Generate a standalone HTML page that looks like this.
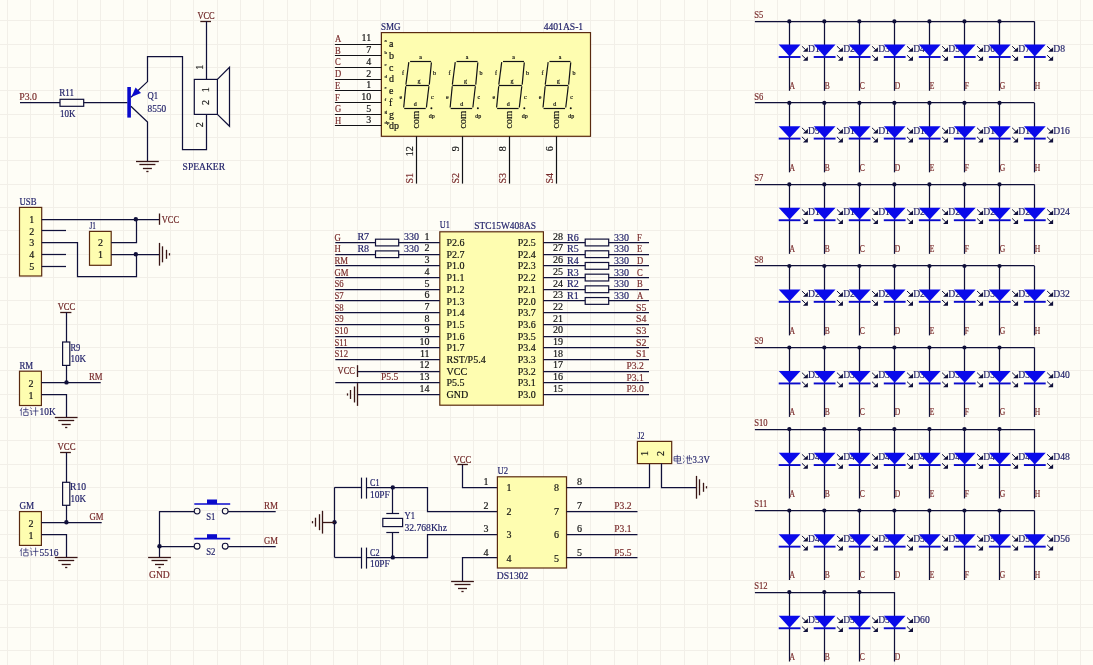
<!DOCTYPE html>
<html><head><meta charset="utf-8"><style>
html,body{margin:0;padding:0;background:#FEFDF6;}
svg{display:block;font-family:"Liberation Serif",serif;}
text{stroke-width:0.18px;}
svg{will-change:transform;}
</style></head><body>
<svg width="1093" height="665" viewBox="0 0 1093 665">
<rect width="1093" height="665" fill="#FEFDF6"/>
<path d="M7.5 0V665M30.5 0V665M53.5 0V665M77.5 0V665M100.5 0V665M123.5 0V665M147.5 0V665M170.5 0V665M193.5 0V665M217.5 0V665M240.5 0V665M263.5 0V665M287.5 0V665M310.5 0V665M333.5 0V665M357.5 0V665M380.5 0V665M403.5 0V665M427.5 0V665M450.5 0V665M473.5 0V665M497.5 0V665M520.5 0V665M543.5 0V665M567.5 0V665M590.5 0V665M614.5 0V665M637.5 0V665M660.5 0V665M684.5 0V665M707.5 0V665M730.5 0V665M754.5 0V665M777.5 0V665M800.5 0V665M824.5 0V665M847.5 0V665M870.5 0V665M894.5 0V665M917.5 0V665M940.5 0V665M964.5 0V665M987.5 0V665M1010.5 0V665M1034.5 0V665M1057.5 0V665M1080.5 0V665M0 20.5H1093M0 44.5H1093M0 67.5H1093M0 90.5H1093M0 114.5H1093M0 137.5H1093M0 160.5H1093M0 184.5H1093M0 207.5H1093M0 230.5H1093M0 254.5H1093M0 277.5H1093M0 300.5H1093M0 324.5H1093M0 347.5H1093M0 370.5H1093M0 394.5H1093M0 417.5H1093M0 440.5H1093M0 464.5H1093M0 487.5H1093M0 510.5H1093M0 534.5H1093M0 557.5H1093M0 580.5H1093M0 604.5H1093M0 627.5H1093M0 650.5H1093" stroke="#F2EFE8" stroke-width="1" fill="none"/>
<text x="19.2" y="99.8" font-size="10" fill="#782A2A" stroke="#782A2A" textLength="17.8" lengthAdjust="spacingAndGlyphs" stroke-width="0">P3.0</text>
<line x1="20" y1="102.5" x2="60" y2="102.5" stroke="#10103A" stroke-width="1.25"/>
<rect x="60" y="99.3" width="23.7" height="7" fill="none" stroke="#10103A" stroke-width="1.2"/>
<line x1="83.7" y1="102.5" x2="127.5" y2="102.5" stroke="#10103A" stroke-width="1.25"/>
<text x="59.3" y="96.2" font-size="10" fill="#1C1C66" stroke="#1C1C66" textLength="14.8" lengthAdjust="spacingAndGlyphs">R11</text>
<text x="60" y="116.5" font-size="10" fill="#1C1C66" stroke="#1C1C66" textLength="15.5" lengthAdjust="spacingAndGlyphs">10K</text>
<rect x="127.3" y="87" width="3.6" height="30.6" fill="#0A0ACC" stroke="none" stroke-width="0"/>
<polyline points="130.9,97.2 147.5,81.6 147.5,56.5 182.5,56.5 182.5,149.5 206.5,149.5 206.5,114.4" fill="none" stroke="#10103A" stroke-width="1.25" stroke-linejoin="miter"/>
<polygon points="131.3,97 135.6,87.6 141,92.9" fill="#0A0ACC" stroke="none" stroke-width="1"/>
<polyline points="130.9,106.2 147.5,122 147.5,161.5" fill="none" stroke="#10103A" stroke-width="1.25" stroke-linejoin="miter"/>
<line x1="136" y1="161.5" x2="158.8" y2="161.5" stroke="#3A1616" stroke-width="1.3"/>
<line x1="139.4" y1="164.5" x2="155.4" y2="164.5" stroke="#3A1616" stroke-width="1.3"/>
<line x1="142.9" y1="168.5" x2="151.9" y2="168.5" stroke="#3A1616" stroke-width="1.3"/>
<line x1="146.3" y1="171.5" x2="148.5" y2="171.5" stroke="#3A1616" stroke-width="1.3"/>
<text x="147.4" y="99" font-size="10" fill="#1C1C66" stroke="#1C1C66" textLength="10.6" lengthAdjust="spacingAndGlyphs">Q1</text>
<text x="147.6" y="111.8" font-size="10" fill="#1C1C66" stroke="#1C1C66" textLength="18.6" lengthAdjust="spacingAndGlyphs">8550</text>
<line x1="200.3" y1="21.5" x2="211" y2="21.5" stroke="#3A1616" stroke-width="1.3"/>
<text x="197.4" y="18.9" font-size="10" fill="#6A2020" stroke="#6A2020" textLength="17.3" lengthAdjust="spacingAndGlyphs" stroke-width="0">VCC</text>
<line x1="206.5" y1="21.3" x2="206.5" y2="79.4" stroke="#10103A" stroke-width="1.25"/>
<rect x="194.3" y="79.4" width="23.1" height="35" fill="none" stroke="#10103A" stroke-width="1.2"/>
<polyline points="217.4,79.4 229.5,67.2 229.5,126.2 217.4,114.4" fill="none" stroke="#10103A" stroke-width="1.25" stroke-linejoin="miter"/>
<text transform="translate(203.2 67.3) rotate(-90)" font-size="10" fill="#101010" stroke="#101010" text-anchor="middle">1</text>
<text transform="translate(208.6 89.7) rotate(-90)" font-size="10" fill="#101010" stroke="#101010" text-anchor="middle">1</text>
<text transform="translate(208.6 102.5) rotate(-90)" font-size="10" fill="#101010" stroke="#101010" text-anchor="middle">2</text>
<text transform="translate(203.2 124.8) rotate(-90)" font-size="10" fill="#101010" stroke="#101010" text-anchor="middle">2</text>
<text x="182.6" y="170.2" font-size="10" fill="#1C1C66" stroke="#1C1C66" textLength="42.4" lengthAdjust="spacingAndGlyphs">SPEAKER</text>
<text x="19.5" y="204.8" font-size="10" fill="#1C1C66" stroke="#1C1C66" textLength="17" lengthAdjust="spacingAndGlyphs">USB</text>
<rect x="19.5" y="207.4" width="22.2" height="68.6" fill="#FEFDB0" stroke="#5A2A10" stroke-width="1.2"/>
<text x="31.8" y="222.8" font-size="10" fill="#101010" stroke="#101010" text-anchor="middle">1</text>
<text x="31.8" y="234.5" font-size="10" fill="#101010" stroke="#101010" text-anchor="middle">2</text>
<text x="31.8" y="245.9" font-size="10" fill="#101010" stroke="#101010" text-anchor="middle">3</text>
<text x="31.8" y="257.9" font-size="10" fill="#101010" stroke="#101010" text-anchor="middle">4</text>
<text x="31.8" y="269.6" font-size="10" fill="#101010" stroke="#101010" text-anchor="middle">5</text>
<line x1="41.7" y1="219.5" x2="159" y2="219.5" stroke="#10103A" stroke-width="1.25"/>
<line x1="41.7" y1="230.5" x2="66" y2="230.5" stroke="#10103A" stroke-width="1.25"/>
<polyline points="41.7,242.5 77.5,242.5 77.5,276.5 136.5,276.5 136.5,254.3" fill="none" stroke="#10103A" stroke-width="1.25" stroke-linejoin="miter"/>
<line x1="41.7" y1="254.5" x2="66" y2="254.5" stroke="#10103A" stroke-width="1.25"/>
<line x1="41.7" y1="266.5" x2="66" y2="266.5" stroke="#10103A" stroke-width="1.25"/>
<circle cx="135.8" cy="219.2" r="2.2" fill="#10103A"/>
<circle cx="135.8" cy="254.3" r="2.2" fill="#10103A"/>
<line x1="159.5" y1="213.5" x2="159.5" y2="224.8" stroke="#3A1616" stroke-width="1.3"/>
<text x="161.7" y="223.2" font-size="10" fill="#6A2020" stroke="#6A2020" textLength="17.3" lengthAdjust="spacingAndGlyphs" stroke-width="0">VCC</text>
<text x="89.5" y="229" font-size="10" fill="#1C1C66" stroke="#1C1C66" textLength="6.5" lengthAdjust="spacingAndGlyphs">J1</text>
<rect x="89.5" y="231.4" width="21.7" height="33.9" fill="#FEFDB0" stroke="#5A2A10" stroke-width="1.2"/>
<text x="100.6" y="246.2" font-size="10" fill="#101010" stroke="#101010" text-anchor="middle">2</text>
<text x="100.6" y="258.3" font-size="10" fill="#101010" stroke="#101010" text-anchor="middle">1</text>
<polyline points="111.2,242.5 136.5,242.5 136.5,219.2" fill="none" stroke="#10103A" stroke-width="1.25" stroke-linejoin="miter"/>
<line x1="111.2" y1="254.5" x2="159" y2="254.5" stroke="#10103A" stroke-width="1.25"/>
<line x1="159.5" y1="242.9" x2="159.5" y2="265.7" stroke="#3A1616" stroke-width="1.3"/>
<line x1="162.5" y1="246.3" x2="162.5" y2="262.3" stroke="#3A1616" stroke-width="1.3"/>
<line x1="166.5" y1="249.8" x2="166.5" y2="258.8" stroke="#3A1616" stroke-width="1.3"/>
<line x1="169.5" y1="253.2" x2="169.5" y2="255.4" stroke="#3A1616" stroke-width="1.3"/>
<text x="57.7" y="310.3" font-size="10" fill="#6A2020" stroke="#6A2020" textLength="17.6" lengthAdjust="spacingAndGlyphs" stroke-width="0">VCC</text>
<line x1="60.2" y1="312.5" x2="71.4" y2="312.5" stroke="#3A1616" stroke-width="1.3"/>
<line x1="66.5" y1="312.3" x2="66.5" y2="342" stroke="#10103A" stroke-width="1.25"/>
<rect x="62.6" y="342" width="7.2" height="23.4" fill="none" stroke="#10103A" stroke-width="1.2"/>
<line x1="66.5" y1="365.4" x2="66.5" y2="382.4" stroke="#10103A" stroke-width="1.25"/>
<text x="70.4" y="350.7" font-size="10" fill="#1C1C66" stroke="#1C1C66" textLength="9.8" lengthAdjust="spacingAndGlyphs">R9</text>
<text x="70.4" y="362.4" font-size="10" fill="#1C1C66" stroke="#1C1C66" textLength="15.6" lengthAdjust="spacingAndGlyphs">10K</text>
<text x="19.5" y="369.3" font-size="10" fill="#1C1C66" stroke="#1C1C66" textLength="13.7" lengthAdjust="spacingAndGlyphs">RM</text>
<rect x="19.5" y="371.2" width="21.9" height="34.3" fill="#FEFDB0" stroke="#5A2A10" stroke-width="1.2"/>
<text x="30.9" y="386.6" font-size="10" fill="#101010" stroke="#101010" text-anchor="middle">2</text>
<text x="30.9" y="399.3" font-size="10" fill="#101010" stroke="#101010" text-anchor="middle">1</text>
<line x1="41.4" y1="382.5" x2="100.7" y2="382.5" stroke="#10103A" stroke-width="1.25"/>
<circle cx="66.5" cy="382.4" r="2.2" fill="#10103A"/>
<text x="89" y="379.5" font-size="10" fill="#782A2A" stroke="#782A2A" textLength="13.6" lengthAdjust="spacingAndGlyphs" stroke-width="0">RM</text>
<polyline points="41.4,394.5 66.5,394.5 66.5,417.4" fill="none" stroke="#10103A" stroke-width="1.25" stroke-linejoin="miter"/>
<line x1="54.8" y1="417.5" x2="77.6" y2="417.5" stroke="#3A1616" stroke-width="1.3"/>
<line x1="58.2" y1="420.5" x2="74.2" y2="420.5" stroke="#3A1616" stroke-width="1.3"/>
<line x1="61.7" y1="424.5" x2="70.7" y2="424.5" stroke="#3A1616" stroke-width="1.3"/>
<line x1="65.1" y1="427.5" x2="67.3" y2="427.5" stroke="#3A1616" stroke-width="1.3"/>
<path d="M22.1 407.6L20.1 411M21.3 409.4V415.6M23.1 409.6H28.5M25.8 407.4V411.8M23.7 412H28.1 V415.5 H23.7 ZM30.3 407.6L31.7 408.6M29.7 410.6H31.3 V415 L32.5 413.6M32.7 411H38.5M35.6 407.2V415.8" stroke="#1C1C66" stroke-width="0.85" fill="none" opacity="0.8"/>
<text x="39.6" y="415.2" font-size="10" fill="#1C1C66" stroke="#1C1C66" textLength="16.1" lengthAdjust="spacingAndGlyphs">10K</text>
<text x="57.5" y="449.5" font-size="10" fill="#6A2020" stroke="#6A2020" textLength="18" lengthAdjust="spacingAndGlyphs" stroke-width="0">VCC</text>
<line x1="60.1" y1="452.5" x2="70.9" y2="452.5" stroke="#3A1616" stroke-width="1.3"/>
<line x1="66.5" y1="452.6" x2="66.5" y2="482.3" stroke="#10103A" stroke-width="1.25"/>
<rect x="62.6" y="482.3" width="7.2" height="23" fill="none" stroke="#10103A" stroke-width="1.2"/>
<line x1="66.5" y1="505.3" x2="66.5" y2="522.3" stroke="#10103A" stroke-width="1.25"/>
<text x="70" y="490" font-size="10" fill="#1C1C66" stroke="#1C1C66" textLength="16" lengthAdjust="spacingAndGlyphs">R10</text>
<text x="70.4" y="502.4" font-size="10" fill="#1C1C66" stroke="#1C1C66" textLength="15.6" lengthAdjust="spacingAndGlyphs">10K</text>
<text x="19.5" y="508.6" font-size="10" fill="#1C1C66" stroke="#1C1C66" textLength="14.7" lengthAdjust="spacingAndGlyphs">GM</text>
<rect x="19.5" y="511.6" width="21.9" height="33.8" fill="#FEFDB0" stroke="#5A2A10" stroke-width="1.2"/>
<text x="30.9" y="526.9" font-size="10" fill="#101010" stroke="#101010" text-anchor="middle">2</text>
<text x="30.9" y="539" font-size="10" fill="#101010" stroke="#101010" text-anchor="middle">1</text>
<line x1="41.4" y1="522.5" x2="101.7" y2="522.5" stroke="#10103A" stroke-width="1.25"/>
<circle cx="66.4" cy="522.3" r="2.2" fill="#10103A"/>
<text x="89.5" y="520.4" font-size="10" fill="#782A2A" stroke="#782A2A" textLength="14.1" lengthAdjust="spacingAndGlyphs" stroke-width="0">GM</text>
<polyline points="41.4,534.5 66.5,534.5 66.5,557.1" fill="none" stroke="#10103A" stroke-width="1.25" stroke-linejoin="miter"/>
<line x1="54.8" y1="557.5" x2="77.6" y2="557.5" stroke="#3A1616" stroke-width="1.3"/>
<line x1="58.2" y1="560.5" x2="74.2" y2="560.5" stroke="#3A1616" stroke-width="1.3"/>
<line x1="61.7" y1="564.5" x2="70.7" y2="564.5" stroke="#3A1616" stroke-width="1.3"/>
<line x1="65.1" y1="567.5" x2="67.3" y2="567.5" stroke="#3A1616" stroke-width="1.3"/>
<path d="M22.1 548L20.1 551.4M21.3 549.8V556M23.1 550H28.5M25.8 547.8V552.2M23.7 552.4H28.1 V555.9 H23.7 ZM30.3 548L31.7 549M29.7 551H31.3 V555.4 L32.5 554M32.7 551.4H38.5M35.6 547.6V556.2" stroke="#1C1C66" stroke-width="0.85" fill="none" opacity="0.8"/>
<text x="39.6" y="555.6" font-size="10" fill="#1C1C66" stroke="#1C1C66" textLength="19" lengthAdjust="spacingAndGlyphs">5516</text>
<line x1="159.5" y1="511.5" x2="194.1" y2="511.5" stroke="#10103A" stroke-width="1.25"/>
<circle cx="197.1" cy="511.1" r="2.9" fill="none" stroke="#10103A" stroke-width="1.1"/>
<circle cx="225.2" cy="511.1" r="2.9" fill="none" stroke="#10103A" stroke-width="1.1"/>
<line x1="228.1" y1="511.5" x2="275.7" y2="511.5" stroke="#10103A" stroke-width="1.25"/>
<line x1="194.3" y1="504" x2="230.2" y2="504" stroke="#0A0ACC" stroke-width="1.7"/>
<rect x="207" y="499.5" width="10" height="4.5" fill="#0A0ACC" stroke="none" stroke-width="0"/>
<text x="206.2" y="519.7" font-size="10" fill="#1C1C66" stroke="#1C1C66" textLength="9.2" lengthAdjust="spacingAndGlyphs">S1</text>
<text x="264" y="509" font-size="10" fill="#782A2A" stroke="#782A2A" textLength="14" lengthAdjust="spacingAndGlyphs" stroke-width="0">RM</text>
<line x1="159.5" y1="546.5" x2="194.1" y2="546.5" stroke="#10103A" stroke-width="1.25"/>
<circle cx="197.1" cy="546.2" r="2.9" fill="none" stroke="#10103A" stroke-width="1.1"/>
<circle cx="225.2" cy="546.2" r="2.9" fill="none" stroke="#10103A" stroke-width="1.1"/>
<line x1="228.1" y1="546.5" x2="275.7" y2="546.5" stroke="#10103A" stroke-width="1.25"/>
<line x1="194.3" y1="538.7" x2="230.2" y2="538.7" stroke="#0A0ACC" stroke-width="1.7"/>
<rect x="207" y="534.2" width="10" height="4.5" fill="#0A0ACC" stroke="none" stroke-width="0"/>
<text x="206.2" y="554.5" font-size="10" fill="#1C1C66" stroke="#1C1C66" textLength="9.2" lengthAdjust="spacingAndGlyphs">S2</text>
<text x="264" y="543.7" font-size="10" fill="#782A2A" stroke="#782A2A" textLength="14" lengthAdjust="spacingAndGlyphs" stroke-width="0">GM</text>
<line x1="159.5" y1="511.1" x2="159.5" y2="557" stroke="#10103A" stroke-width="1.25"/>
<circle cx="159.5" cy="546.2" r="2.2" fill="#10103A"/>
<line x1="148.1" y1="557.5" x2="170.9" y2="557.5" stroke="#3A1616" stroke-width="1.3"/>
<line x1="151.5" y1="560.5" x2="167.5" y2="560.5" stroke="#3A1616" stroke-width="1.3"/>
<line x1="155" y1="564.5" x2="164" y2="564.5" stroke="#3A1616" stroke-width="1.3"/>
<line x1="158.4" y1="567.5" x2="160.6" y2="567.5" stroke="#3A1616" stroke-width="1.3"/>
<text x="149" y="578.4" font-size="10" fill="#782A2A" stroke="#782A2A" textLength="20.8" lengthAdjust="spacingAndGlyphs" stroke-width="0">GND</text>
<text x="381" y="29.8" font-size="10" fill="#1C1C66" stroke="#1C1C66" textLength="19.6" lengthAdjust="spacingAndGlyphs">SMG</text>
<text x="543.7" y="30" font-size="10" fill="#1C1C66" stroke="#1C1C66" textLength="39.5" lengthAdjust="spacingAndGlyphs">4401AS-1</text>
<rect x="381.4" y="32.6" width="209.1" height="103.7" fill="#FEFDB0" stroke="#5A2A10" stroke-width="1.2"/>
<line x1="334.9" y1="44.5" x2="381.4" y2="44.5" stroke="#121216" stroke-width="1.2"/>
<text transform="translate(335 42) scale(0.86 1)" font-size="10" fill="#782A2A" stroke="#782A2A" stroke-width="0">A</text>
<text x="371.2" y="41.4" font-size="10" fill="#101010" stroke="#101010" text-anchor="end">11</text>
<text x="384.4" y="42.4" font-size="5" fill="#101010" stroke="#101010" stroke-width="0">a</text>
<text x="389" y="47.3" font-size="10" fill="#101010" stroke="#101010">a</text>
<line x1="334.9" y1="55.5" x2="381.4" y2="55.5" stroke="#121216" stroke-width="1.2"/>
<text transform="translate(335 53.7) scale(0.86 1)" font-size="10" fill="#782A2A" stroke="#782A2A" stroke-width="0">B</text>
<text x="371.2" y="53.1" font-size="10" fill="#101010" stroke="#101010" text-anchor="end">7</text>
<text x="384.4" y="54.1" font-size="5" fill="#101010" stroke="#101010" stroke-width="0">b</text>
<text x="389" y="59" font-size="10" fill="#101010" stroke="#101010">b</text>
<line x1="334.9" y1="67.5" x2="381.4" y2="67.5" stroke="#121216" stroke-width="1.2"/>
<text transform="translate(335 65.4) scale(0.86 1)" font-size="10" fill="#782A2A" stroke="#782A2A" stroke-width="0">C</text>
<text x="371.2" y="64.8" font-size="10" fill="#101010" stroke="#101010" text-anchor="end">4</text>
<text x="384.4" y="65.8" font-size="5" fill="#101010" stroke="#101010" stroke-width="0">c</text>
<text x="389" y="70.7" font-size="10" fill="#101010" stroke="#101010">c</text>
<line x1="334.9" y1="79.5" x2="381.4" y2="79.5" stroke="#121216" stroke-width="1.2"/>
<text transform="translate(335 77.1) scale(0.86 1)" font-size="10" fill="#782A2A" stroke="#782A2A" stroke-width="0">D</text>
<text x="371.2" y="76.5" font-size="10" fill="#101010" stroke="#101010" text-anchor="end">2</text>
<text x="384.4" y="77.5" font-size="5" fill="#101010" stroke="#101010" stroke-width="0">d</text>
<text x="389" y="82.4" font-size="10" fill="#101010" stroke="#101010">d</text>
<line x1="334.9" y1="90.5" x2="381.4" y2="90.5" stroke="#121216" stroke-width="1.2"/>
<text transform="translate(335 88.8) scale(0.86 1)" font-size="10" fill="#782A2A" stroke="#782A2A" stroke-width="0">E</text>
<text x="371.2" y="88.2" font-size="10" fill="#101010" stroke="#101010" text-anchor="end">1</text>
<text x="384.4" y="89.2" font-size="5" fill="#101010" stroke="#101010" stroke-width="0">e</text>
<text x="389" y="94.1" font-size="10" fill="#101010" stroke="#101010">e</text>
<line x1="334.9" y1="102.5" x2="381.4" y2="102.5" stroke="#121216" stroke-width="1.2"/>
<text transform="translate(335 100.5) scale(0.86 1)" font-size="10" fill="#782A2A" stroke="#782A2A" stroke-width="0">F</text>
<text x="371.2" y="99.9" font-size="10" fill="#101010" stroke="#101010" text-anchor="end">10</text>
<text x="384.4" y="100.9" font-size="5" fill="#101010" stroke="#101010" stroke-width="0">f</text>
<text x="389" y="105.8" font-size="10" fill="#101010" stroke="#101010">f</text>
<line x1="334.9" y1="114.5" x2="381.4" y2="114.5" stroke="#121216" stroke-width="1.2"/>
<text transform="translate(335 112.2) scale(0.86 1)" font-size="10" fill="#782A2A" stroke="#782A2A" stroke-width="0">G</text>
<text x="371.2" y="111.6" font-size="10" fill="#101010" stroke="#101010" text-anchor="end">5</text>
<text x="384.4" y="112.6" font-size="5" fill="#101010" stroke="#101010" stroke-width="0">g</text>
<text x="389" y="117.5" font-size="10" fill="#101010" stroke="#101010">g</text>
<line x1="334.9" y1="125.5" x2="381.4" y2="125.5" stroke="#121216" stroke-width="1.2"/>
<text transform="translate(335 123.9) scale(0.86 1)" font-size="10" fill="#782A2A" stroke="#782A2A" stroke-width="0">H</text>
<text x="371.2" y="123.3" font-size="10" fill="#101010" stroke="#101010" text-anchor="end">3</text>
<text x="384.4" y="124.3" font-size="5" fill="#101010" stroke="#101010" stroke-width="0">dp</text>
<text x="389" y="129.2" font-size="10" fill="#101010" stroke="#101010">dp</text>
<line x1="410.1" y1="61.5" x2="431.1" y2="61.5" stroke="#121216" stroke-width="1.2"/>
<line x1="405.9" y1="85.5" x2="428.9" y2="85.5" stroke="#121216" stroke-width="1.2"/>
<line x1="404.2" y1="108.5" x2="425.7" y2="108.5" stroke="#121216" stroke-width="1.2"/>
<line x1="408.8" y1="62.1" x2="405.9" y2="84.6" stroke="#121216" stroke-width="1.2"/>
<line x1="405.8" y1="86.3" x2="403.7" y2="107.5" stroke="#121216" stroke-width="1.2"/>
<line x1="431.4" y1="62.4" x2="429.3" y2="84.6" stroke="#121216" stroke-width="1.2"/>
<line x1="428.9" y1="86.3" x2="426.4" y2="107.5" stroke="#121216" stroke-width="1.2"/>
<circle cx="431.4" cy="108.3" r="1" fill="#121216"/>
<text x="419.3" y="59.3" font-size="6" fill="#101010" stroke="#101010" stroke-width="0">a</text>
<text x="402.1" y="75.2" font-size="6" fill="#101010" stroke="#101010" stroke-width="0">f</text>
<text x="433.1" y="75.2" font-size="6" fill="#101010" stroke="#101010" stroke-width="0">b</text>
<text x="417.5" y="83" font-size="6" fill="#101010" stroke="#101010" stroke-width="0">g</text>
<text x="399.5" y="99" font-size="6" fill="#101010" stroke="#101010" stroke-width="0">e</text>
<text x="431" y="99" font-size="6" fill="#101010" stroke="#101010" stroke-width="0">c</text>
<text x="413.8" y="105.6" font-size="6" fill="#101010" stroke="#101010" stroke-width="0">d</text>
<text x="428.8" y="118.2" font-size="6" fill="#101010" stroke="#101010" stroke-width="0">dp</text>
<text transform="translate(419.2 128.8) rotate(-90)" font-size="10.5" fill="#101010" stroke="#101010">com</text>
<line x1="456.55" y1="61.5" x2="477.55" y2="61.5" stroke="#121216" stroke-width="1.2"/>
<line x1="452.35" y1="85.5" x2="475.35" y2="85.5" stroke="#121216" stroke-width="1.2"/>
<line x1="450.65" y1="108.5" x2="472.15" y2="108.5" stroke="#121216" stroke-width="1.2"/>
<line x1="455.25" y1="62.1" x2="452.35" y2="84.6" stroke="#121216" stroke-width="1.2"/>
<line x1="452.25" y1="86.3" x2="450.15" y2="107.5" stroke="#121216" stroke-width="1.2"/>
<line x1="477.85" y1="62.4" x2="475.75" y2="84.6" stroke="#121216" stroke-width="1.2"/>
<line x1="475.35" y1="86.3" x2="472.85" y2="107.5" stroke="#121216" stroke-width="1.2"/>
<circle cx="477.85" cy="108.3" r="1" fill="#121216"/>
<text x="465.75" y="59.3" font-size="6" fill="#101010" stroke="#101010" stroke-width="0">a</text>
<text x="448.55" y="75.2" font-size="6" fill="#101010" stroke="#101010" stroke-width="0">f</text>
<text x="479.55" y="75.2" font-size="6" fill="#101010" stroke="#101010" stroke-width="0">b</text>
<text x="463.95" y="83" font-size="6" fill="#101010" stroke="#101010" stroke-width="0">g</text>
<text x="445.95" y="99" font-size="6" fill="#101010" stroke="#101010" stroke-width="0">e</text>
<text x="477.45" y="99" font-size="6" fill="#101010" stroke="#101010" stroke-width="0">c</text>
<text x="460.25" y="105.6" font-size="6" fill="#101010" stroke="#101010" stroke-width="0">d</text>
<text x="475.25" y="118.2" font-size="6" fill="#101010" stroke="#101010" stroke-width="0">dp</text>
<text transform="translate(465.65 128.8) rotate(-90)" font-size="10.5" fill="#101010" stroke="#101010">com</text>
<line x1="503" y1="61.5" x2="524" y2="61.5" stroke="#121216" stroke-width="1.2"/>
<line x1="498.8" y1="85.5" x2="521.8" y2="85.5" stroke="#121216" stroke-width="1.2"/>
<line x1="497.1" y1="108.5" x2="518.6" y2="108.5" stroke="#121216" stroke-width="1.2"/>
<line x1="501.7" y1="62.1" x2="498.8" y2="84.6" stroke="#121216" stroke-width="1.2"/>
<line x1="498.7" y1="86.3" x2="496.6" y2="107.5" stroke="#121216" stroke-width="1.2"/>
<line x1="524.3" y1="62.4" x2="522.2" y2="84.6" stroke="#121216" stroke-width="1.2"/>
<line x1="521.8" y1="86.3" x2="519.3" y2="107.5" stroke="#121216" stroke-width="1.2"/>
<circle cx="524.3" cy="108.3" r="1" fill="#121216"/>
<text x="512.2" y="59.3" font-size="6" fill="#101010" stroke="#101010" stroke-width="0">a</text>
<text x="495" y="75.2" font-size="6" fill="#101010" stroke="#101010" stroke-width="0">f</text>
<text x="526" y="75.2" font-size="6" fill="#101010" stroke="#101010" stroke-width="0">b</text>
<text x="510.4" y="83" font-size="6" fill="#101010" stroke="#101010" stroke-width="0">g</text>
<text x="492.4" y="99" font-size="6" fill="#101010" stroke="#101010" stroke-width="0">e</text>
<text x="523.9" y="99" font-size="6" fill="#101010" stroke="#101010" stroke-width="0">c</text>
<text x="506.7" y="105.6" font-size="6" fill="#101010" stroke="#101010" stroke-width="0">d</text>
<text x="521.7" y="118.2" font-size="6" fill="#101010" stroke="#101010" stroke-width="0">dp</text>
<text transform="translate(512.1 128.8) rotate(-90)" font-size="10.5" fill="#101010" stroke="#101010">com</text>
<line x1="549.45" y1="61.5" x2="570.45" y2="61.5" stroke="#121216" stroke-width="1.2"/>
<line x1="545.25" y1="85.5" x2="568.25" y2="85.5" stroke="#121216" stroke-width="1.2"/>
<line x1="543.55" y1="108.5" x2="565.05" y2="108.5" stroke="#121216" stroke-width="1.2"/>
<line x1="548.15" y1="62.1" x2="545.25" y2="84.6" stroke="#121216" stroke-width="1.2"/>
<line x1="545.15" y1="86.3" x2="543.05" y2="107.5" stroke="#121216" stroke-width="1.2"/>
<line x1="570.75" y1="62.4" x2="568.65" y2="84.6" stroke="#121216" stroke-width="1.2"/>
<line x1="568.25" y1="86.3" x2="565.75" y2="107.5" stroke="#121216" stroke-width="1.2"/>
<circle cx="570.75" cy="108.3" r="1" fill="#121216"/>
<text x="558.65" y="59.3" font-size="6" fill="#101010" stroke="#101010" stroke-width="0">a</text>
<text x="541.45" y="75.2" font-size="6" fill="#101010" stroke="#101010" stroke-width="0">f</text>
<text x="572.45" y="75.2" font-size="6" fill="#101010" stroke="#101010" stroke-width="0">b</text>
<text x="556.85" y="83" font-size="6" fill="#101010" stroke="#101010" stroke-width="0">g</text>
<text x="538.85" y="99" font-size="6" fill="#101010" stroke="#101010" stroke-width="0">e</text>
<text x="570.35" y="99" font-size="6" fill="#101010" stroke="#101010" stroke-width="0">c</text>
<text x="553.15" y="105.6" font-size="6" fill="#101010" stroke="#101010" stroke-width="0">d</text>
<text x="568.15" y="118.2" font-size="6" fill="#101010" stroke="#101010" stroke-width="0">dp</text>
<text transform="translate(558.55 128.8) rotate(-90)" font-size="10.5" fill="#101010" stroke="#101010">com</text>
<line x1="416.5" y1="136.3" x2="416.5" y2="183.6" stroke="#121216" stroke-width="1.2"/>
<text transform="translate(413.4 146.3) rotate(-90)" font-size="10" fill="#101010" stroke="#101010" text-anchor="end">12</text>
<text transform="translate(413.4 183.6) rotate(-90)" font-size="10" fill="#782A2A" stroke="#782A2A" stroke-width="0">S1</text>
<line x1="462.5" y1="136.3" x2="462.5" y2="183.6" stroke="#121216" stroke-width="1.2"/>
<text transform="translate(459.4 146.3) rotate(-90)" font-size="10" fill="#101010" stroke="#101010" text-anchor="end">9</text>
<text transform="translate(459.4 183.6) rotate(-90)" font-size="10" fill="#782A2A" stroke="#782A2A" stroke-width="0">S2</text>
<line x1="509.5" y1="136.3" x2="509.5" y2="183.6" stroke="#121216" stroke-width="1.2"/>
<text transform="translate(506.2 146.3) rotate(-90)" font-size="10" fill="#101010" stroke="#101010" text-anchor="end">8</text>
<text transform="translate(506.2 183.6) rotate(-90)" font-size="10" fill="#782A2A" stroke="#782A2A" stroke-width="0">S3</text>
<line x1="556.5" y1="136.3" x2="556.5" y2="183.6" stroke="#121216" stroke-width="1.2"/>
<text transform="translate(553.3 146.3) rotate(-90)" font-size="10" fill="#101010" stroke="#101010" text-anchor="end">6</text>
<text transform="translate(553.3 183.6) rotate(-90)" font-size="10" fill="#782A2A" stroke="#782A2A" stroke-width="0">S4</text>
<text x="439.8" y="228.4" font-size="10" fill="#1C1C66" stroke="#1C1C66" textLength="10" lengthAdjust="spacingAndGlyphs">U1</text>
<text x="474.3" y="228.9" font-size="10" fill="#1C1C66" stroke="#1C1C66" textLength="61.7" lengthAdjust="spacingAndGlyphs">STC15W408AS</text>
<rect x="439.8" y="231.8" width="103.6" height="173.4" fill="#FEFDB0" stroke="#5A2A10" stroke-width="1.2"/>
<text x="446.5" y="246.1" font-size="10" fill="#101010" stroke="#101010">P2.6</text>
<text x="429.6" y="239.8" font-size="10" fill="#101010" stroke="#101010" text-anchor="end">1</text>
<text transform="translate(334.5 240.5) scale(0.87 1)" font-size="10" fill="#782A2A" stroke="#782A2A" stroke-width="0">G</text>
<text x="446.5" y="257.79" font-size="10" fill="#101010" stroke="#101010">P2.7</text>
<text x="429.6" y="251.49" font-size="10" fill="#101010" stroke="#101010" text-anchor="end">2</text>
<text transform="translate(334.5 252.19) scale(0.87 1)" font-size="10" fill="#782A2A" stroke="#782A2A" stroke-width="0">H</text>
<text x="446.5" y="269.48" font-size="10" fill="#101010" stroke="#101010">P1.0</text>
<text x="429.6" y="263.18" font-size="10" fill="#101010" stroke="#101010" text-anchor="end">3</text>
<text transform="translate(334.5 263.88) scale(0.87 1)" font-size="10" fill="#782A2A" stroke="#782A2A" stroke-width="0">RM</text>
<text x="446.5" y="281.17" font-size="10" fill="#101010" stroke="#101010">P1.1</text>
<text x="429.6" y="274.87" font-size="10" fill="#101010" stroke="#101010" text-anchor="end">4</text>
<text transform="translate(334.5 275.57) scale(0.87 1)" font-size="10" fill="#782A2A" stroke="#782A2A" stroke-width="0">GM</text>
<text x="446.5" y="292.86" font-size="10" fill="#101010" stroke="#101010">P1.2</text>
<text x="429.6" y="286.56" font-size="10" fill="#101010" stroke="#101010" text-anchor="end">5</text>
<text transform="translate(334.5 287.26) scale(0.87 1)" font-size="10" fill="#782A2A" stroke="#782A2A" stroke-width="0">S6</text>
<text x="446.5" y="304.55" font-size="10" fill="#101010" stroke="#101010">P1.3</text>
<text x="429.6" y="298.25" font-size="10" fill="#101010" stroke="#101010" text-anchor="end">6</text>
<text transform="translate(334.5 298.95) scale(0.87 1)" font-size="10" fill="#782A2A" stroke="#782A2A" stroke-width="0">S7</text>
<text x="446.5" y="316.24" font-size="10" fill="#101010" stroke="#101010">P1.4</text>
<text x="429.6" y="309.94" font-size="10" fill="#101010" stroke="#101010" text-anchor="end">7</text>
<text transform="translate(334.5 310.64) scale(0.87 1)" font-size="10" fill="#782A2A" stroke="#782A2A" stroke-width="0">S8</text>
<text x="446.5" y="327.93" font-size="10" fill="#101010" stroke="#101010">P1.5</text>
<text x="429.6" y="321.63" font-size="10" fill="#101010" stroke="#101010" text-anchor="end">8</text>
<text transform="translate(334.5 322.33) scale(0.87 1)" font-size="10" fill="#782A2A" stroke="#782A2A" stroke-width="0">S9</text>
<text x="446.5" y="339.62" font-size="10" fill="#101010" stroke="#101010">P1.6</text>
<text x="429.6" y="333.32" font-size="10" fill="#101010" stroke="#101010" text-anchor="end">9</text>
<text transform="translate(334.5 334.02) scale(0.87 1)" font-size="10" fill="#782A2A" stroke="#782A2A" stroke-width="0">S10</text>
<text x="446.5" y="351.31" font-size="10" fill="#101010" stroke="#101010">P1.7</text>
<text x="429.6" y="345.01" font-size="10" fill="#101010" stroke="#101010" text-anchor="end">10</text>
<text transform="translate(334.5 345.71) scale(0.87 1)" font-size="10" fill="#782A2A" stroke="#782A2A" stroke-width="0">S11</text>
<text x="446.5" y="363" font-size="10" fill="#101010" stroke="#101010">RST/P5.4</text>
<text x="429.6" y="356.7" font-size="10" fill="#101010" stroke="#101010" text-anchor="end">11</text>
<text transform="translate(334.5 357.4) scale(0.87 1)" font-size="10" fill="#782A2A" stroke="#782A2A" stroke-width="0">S12</text>
<text x="446.5" y="374.69" font-size="10" fill="#101010" stroke="#101010">VCC</text>
<text x="429.6" y="368.39" font-size="10" fill="#101010" stroke="#101010" text-anchor="end">12</text>
<text x="446.5" y="386.38" font-size="10" fill="#101010" stroke="#101010">P5.5</text>
<text x="429.6" y="380.08" font-size="10" fill="#101010" stroke="#101010" text-anchor="end">13</text>
<text x="446.5" y="398.07" font-size="10" fill="#101010" stroke="#101010">GND</text>
<text x="429.6" y="391.77" font-size="10" fill="#101010" stroke="#101010" text-anchor="end">14</text>
<line x1="335.3" y1="242.5" x2="375.5" y2="242.5" stroke="#10103A" stroke-width="1.25"/>
<line x1="398.7" y1="242.5" x2="439.8" y2="242.5" stroke="#10103A" stroke-width="1.25"/>
<rect x="375.5" y="239.2" width="23.2" height="6.7" fill="none" stroke="#10103A" stroke-width="1.2"/>
<text x="357.4" y="240.2" font-size="10" fill="#1C1C66" stroke="#1C1C66">R7</text>
<text x="404" y="240.2" font-size="10" fill="#1C1C66" stroke="#1C1C66">330</text>
<line x1="335.3" y1="254.5" x2="375.5" y2="254.5" stroke="#10103A" stroke-width="1.25"/>
<line x1="398.7" y1="254.5" x2="439.8" y2="254.5" stroke="#10103A" stroke-width="1.25"/>
<rect x="375.5" y="250.89" width="23.2" height="6.7" fill="none" stroke="#10103A" stroke-width="1.2"/>
<text x="357.4" y="251.89" font-size="10" fill="#1C1C66" stroke="#1C1C66">R8</text>
<text x="404" y="251.89" font-size="10" fill="#1C1C66" stroke="#1C1C66">330</text>
<line x1="335.3" y1="265.5" x2="439.8" y2="265.5" stroke="#10103A" stroke-width="1.25"/>
<line x1="335.3" y1="277.5" x2="439.8" y2="277.5" stroke="#10103A" stroke-width="1.25"/>
<line x1="335.3" y1="289.5" x2="439.8" y2="289.5" stroke="#10103A" stroke-width="1.25"/>
<line x1="335.3" y1="300.5" x2="439.8" y2="300.5" stroke="#10103A" stroke-width="1.25"/>
<line x1="335.3" y1="312.5" x2="439.8" y2="312.5" stroke="#10103A" stroke-width="1.25"/>
<line x1="335.3" y1="324.5" x2="439.8" y2="324.5" stroke="#10103A" stroke-width="1.25"/>
<line x1="335.3" y1="336.5" x2="439.8" y2="336.5" stroke="#10103A" stroke-width="1.25"/>
<line x1="335.3" y1="347.5" x2="439.8" y2="347.5" stroke="#10103A" stroke-width="1.25"/>
<line x1="335.3" y1="359.5" x2="439.8" y2="359.5" stroke="#10103A" stroke-width="1.25"/>
<line x1="357.4" y1="371.5" x2="439.8" y2="371.5" stroke="#10103A" stroke-width="1.25"/>
<line x1="357.5" y1="365.19" x2="357.5" y2="376.99" stroke="#3A1616" stroke-width="1.3"/>
<text x="337.6" y="374.29" font-size="10" fill="#6A2020" stroke="#6A2020" textLength="17.4" lengthAdjust="spacingAndGlyphs" stroke-width="0">VCC</text>
<line x1="335.3" y1="382.5" x2="439.8" y2="382.5" stroke="#10103A" stroke-width="1.25"/>
<text x="381" y="379.68" font-size="10" fill="#782A2A" stroke="#782A2A" textLength="17.4" lengthAdjust="spacingAndGlyphs" stroke-width="0">P5.5</text>
<line x1="357.4" y1="394.5" x2="439.8" y2="394.5" stroke="#10103A" stroke-width="1.25"/>
<line x1="357.5" y1="383.07" x2="357.5" y2="405.87" stroke="#3A1616" stroke-width="1.3"/>
<line x1="354.5" y1="386.47" x2="354.5" y2="402.47" stroke="#3A1616" stroke-width="1.3"/>
<line x1="350.5" y1="389.97" x2="350.5" y2="398.97" stroke="#3A1616" stroke-width="1.3"/>
<line x1="347.5" y1="393.37" x2="347.5" y2="395.57" stroke="#3A1616" stroke-width="1.3"/>
<text x="535.8" y="246.1" font-size="10" fill="#101010" stroke="#101010" text-anchor="end">P2.5</text>
<text x="553" y="239.8" font-size="10" fill="#101010" stroke="#101010">28</text>
<text transform="translate(636.9 240.5) scale(0.86 1)" font-size="10" fill="#782A2A" stroke="#782A2A" stroke-width="0">F</text>
<line x1="543.4" y1="242.5" x2="585.2" y2="242.5" stroke="#10103A" stroke-width="1.25"/>
<line x1="608.7" y1="242.5" x2="649" y2="242.5" stroke="#10103A" stroke-width="1.25"/>
<rect x="585.2" y="239.1" width="23.5" height="6.8" fill="none" stroke="#10103A" stroke-width="1.2"/>
<text x="567" y="240.5" font-size="10" fill="#1C1C66" stroke="#1C1C66">R6</text>
<text x="614" y="240.5" font-size="10" fill="#1C1C66" stroke="#1C1C66">330</text>
<text x="535.8" y="257.79" font-size="10" fill="#101010" stroke="#101010" text-anchor="end">P2.4</text>
<text x="553" y="251.49" font-size="10" fill="#101010" stroke="#101010">27</text>
<text transform="translate(636.9 252.19) scale(0.86 1)" font-size="10" fill="#782A2A" stroke="#782A2A" stroke-width="0">E</text>
<line x1="543.4" y1="254.5" x2="585.2" y2="254.5" stroke="#10103A" stroke-width="1.25"/>
<line x1="608.7" y1="254.5" x2="649" y2="254.5" stroke="#10103A" stroke-width="1.25"/>
<rect x="585.2" y="250.79" width="23.5" height="6.8" fill="none" stroke="#10103A" stroke-width="1.2"/>
<text x="567" y="252.19" font-size="10" fill="#1C1C66" stroke="#1C1C66">R5</text>
<text x="614" y="252.19" font-size="10" fill="#1C1C66" stroke="#1C1C66">330</text>
<text x="535.8" y="269.48" font-size="10" fill="#101010" stroke="#101010" text-anchor="end">P2.3</text>
<text x="553" y="263.18" font-size="10" fill="#101010" stroke="#101010">26</text>
<text transform="translate(636.9 263.88) scale(0.86 1)" font-size="10" fill="#782A2A" stroke="#782A2A" stroke-width="0">D</text>
<line x1="543.4" y1="265.5" x2="585.2" y2="265.5" stroke="#10103A" stroke-width="1.25"/>
<line x1="608.7" y1="265.5" x2="649" y2="265.5" stroke="#10103A" stroke-width="1.25"/>
<rect x="585.2" y="262.48" width="23.5" height="6.8" fill="none" stroke="#10103A" stroke-width="1.2"/>
<text x="567" y="263.88" font-size="10" fill="#1C1C66" stroke="#1C1C66">R4</text>
<text x="614" y="263.88" font-size="10" fill="#1C1C66" stroke="#1C1C66">330</text>
<text x="535.8" y="281.17" font-size="10" fill="#101010" stroke="#101010" text-anchor="end">P2.2</text>
<text x="553" y="274.87" font-size="10" fill="#101010" stroke="#101010">25</text>
<text transform="translate(636.9 275.57) scale(0.86 1)" font-size="10" fill="#782A2A" stroke="#782A2A" stroke-width="0">C</text>
<line x1="543.4" y1="277.5" x2="585.2" y2="277.5" stroke="#10103A" stroke-width="1.25"/>
<line x1="608.7" y1="277.5" x2="649" y2="277.5" stroke="#10103A" stroke-width="1.25"/>
<rect x="585.2" y="274.17" width="23.5" height="6.8" fill="none" stroke="#10103A" stroke-width="1.2"/>
<text x="567" y="275.57" font-size="10" fill="#1C1C66" stroke="#1C1C66">R3</text>
<text x="614" y="275.57" font-size="10" fill="#1C1C66" stroke="#1C1C66">330</text>
<text x="535.8" y="292.86" font-size="10" fill="#101010" stroke="#101010" text-anchor="end">P2.1</text>
<text x="553" y="286.56" font-size="10" fill="#101010" stroke="#101010">24</text>
<text transform="translate(636.9 287.26) scale(0.86 1)" font-size="10" fill="#782A2A" stroke="#782A2A" stroke-width="0">B</text>
<line x1="543.4" y1="289.5" x2="585.2" y2="289.5" stroke="#10103A" stroke-width="1.25"/>
<line x1="608.7" y1="289.5" x2="649" y2="289.5" stroke="#10103A" stroke-width="1.25"/>
<rect x="585.2" y="285.86" width="23.5" height="6.8" fill="none" stroke="#10103A" stroke-width="1.2"/>
<text x="567" y="287.26" font-size="10" fill="#1C1C66" stroke="#1C1C66">R2</text>
<text x="614" y="287.26" font-size="10" fill="#1C1C66" stroke="#1C1C66">330</text>
<text x="535.8" y="304.55" font-size="10" fill="#101010" stroke="#101010" text-anchor="end">P2.0</text>
<text x="553" y="298.25" font-size="10" fill="#101010" stroke="#101010">23</text>
<text transform="translate(636.9 298.95) scale(0.86 1)" font-size="10" fill="#782A2A" stroke="#782A2A" stroke-width="0">A</text>
<line x1="543.4" y1="300.5" x2="585.2" y2="300.5" stroke="#10103A" stroke-width="1.25"/>
<line x1="608.7" y1="300.5" x2="649" y2="300.5" stroke="#10103A" stroke-width="1.25"/>
<rect x="585.2" y="297.55" width="23.5" height="6.8" fill="none" stroke="#10103A" stroke-width="1.2"/>
<text x="567" y="298.95" font-size="10" fill="#1C1C66" stroke="#1C1C66">R1</text>
<text x="614" y="298.95" font-size="10" fill="#1C1C66" stroke="#1C1C66">330</text>
<text x="535.8" y="316.24" font-size="10" fill="#101010" stroke="#101010" text-anchor="end">P3.7</text>
<text x="553" y="309.94" font-size="10" fill="#101010" stroke="#101010">22</text>
<text x="636" y="310.64" font-size="10" fill="#782A2A" stroke="#782A2A" textLength="10.4" lengthAdjust="spacingAndGlyphs" stroke-width="0">S5</text>
<line x1="543.4" y1="312.5" x2="649" y2="312.5" stroke="#10103A" stroke-width="1.25"/>
<text x="535.8" y="327.93" font-size="10" fill="#101010" stroke="#101010" text-anchor="end">P3.6</text>
<text x="553" y="321.63" font-size="10" fill="#101010" stroke="#101010">21</text>
<text x="636" y="322.33" font-size="10" fill="#782A2A" stroke="#782A2A" textLength="10.4" lengthAdjust="spacingAndGlyphs" stroke-width="0">S4</text>
<line x1="543.4" y1="324.5" x2="649" y2="324.5" stroke="#10103A" stroke-width="1.25"/>
<text x="535.8" y="339.62" font-size="10" fill="#101010" stroke="#101010" text-anchor="end">P3.5</text>
<text x="553" y="333.32" font-size="10" fill="#101010" stroke="#101010">20</text>
<text x="636" y="334.02" font-size="10" fill="#782A2A" stroke="#782A2A" textLength="10.4" lengthAdjust="spacingAndGlyphs" stroke-width="0">S3</text>
<line x1="543.4" y1="336.5" x2="649" y2="336.5" stroke="#10103A" stroke-width="1.25"/>
<text x="535.8" y="351.31" font-size="10" fill="#101010" stroke="#101010" text-anchor="end">P3.4</text>
<text x="553" y="345.01" font-size="10" fill="#101010" stroke="#101010">19</text>
<text x="636" y="345.71" font-size="10" fill="#782A2A" stroke="#782A2A" textLength="10.4" lengthAdjust="spacingAndGlyphs" stroke-width="0">S2</text>
<line x1="543.4" y1="347.5" x2="649" y2="347.5" stroke="#10103A" stroke-width="1.25"/>
<text x="535.8" y="363" font-size="10" fill="#101010" stroke="#101010" text-anchor="end">P3.3</text>
<text x="553" y="356.7" font-size="10" fill="#101010" stroke="#101010">18</text>
<text x="636" y="357.4" font-size="10" fill="#782A2A" stroke="#782A2A" textLength="10.4" lengthAdjust="spacingAndGlyphs" stroke-width="0">S1</text>
<line x1="543.4" y1="359.5" x2="649" y2="359.5" stroke="#10103A" stroke-width="1.25"/>
<text x="535.8" y="374.69" font-size="10" fill="#101010" stroke="#101010" text-anchor="end">P3.2</text>
<text x="553" y="368.39" font-size="10" fill="#101010" stroke="#101010">17</text>
<text x="626.4" y="369.09" font-size="10" fill="#782A2A" stroke="#782A2A" textLength="17.4" lengthAdjust="spacingAndGlyphs" stroke-width="0">P3.2</text>
<line x1="543.4" y1="371.5" x2="649" y2="371.5" stroke="#10103A" stroke-width="1.25"/>
<text x="535.8" y="386.38" font-size="10" fill="#101010" stroke="#101010" text-anchor="end">P3.1</text>
<text x="553" y="380.08" font-size="10" fill="#101010" stroke="#101010">16</text>
<text x="626.4" y="380.78" font-size="10" fill="#782A2A" stroke="#782A2A" textLength="17.4" lengthAdjust="spacingAndGlyphs" stroke-width="0">P3.1</text>
<line x1="543.4" y1="382.5" x2="649" y2="382.5" stroke="#10103A" stroke-width="1.25"/>
<text x="535.8" y="398.07" font-size="10" fill="#101010" stroke="#101010" text-anchor="end">P3.0</text>
<text x="553" y="391.77" font-size="10" fill="#101010" stroke="#101010">15</text>
<text x="626.4" y="392.47" font-size="10" fill="#782A2A" stroke="#782A2A" textLength="17.4" lengthAdjust="spacingAndGlyphs" stroke-width="0">P3.0</text>
<line x1="543.4" y1="394.5" x2="649" y2="394.5" stroke="#10103A" stroke-width="1.25"/>
<line x1="334.5" y1="487.5" x2="361.8" y2="487.5" stroke="#10103A" stroke-width="1.25"/>
<line x1="361.5" y1="477.6" x2="361.5" y2="498.6" stroke="#10103A" stroke-width="1.2"/>
<line x1="366.5" y1="477.6" x2="366.5" y2="498.6" stroke="#10103A" stroke-width="1.2"/>
<polyline points="366.4,487.5 427.5,487.5 427.5,511.5 497.4,511.5" fill="none" stroke="#10103A" stroke-width="1.25" stroke-linejoin="miter"/>
<line x1="334.5" y1="557.5" x2="361.8" y2="557.5" stroke="#10103A" stroke-width="1.25"/>
<line x1="361.5" y1="547.6" x2="361.5" y2="568.6" stroke="#10103A" stroke-width="1.2"/>
<line x1="366.5" y1="547.6" x2="366.5" y2="568.6" stroke="#10103A" stroke-width="1.2"/>
<polyline points="366.4,557.5 427.5,557.5 427.5,534.5 497.4,534.5" fill="none" stroke="#10103A" stroke-width="1.25" stroke-linejoin="miter"/>
<line x1="334.5" y1="487.4" x2="334.5" y2="557.4" stroke="#10103A" stroke-width="1.25"/>
<circle cx="334.5" cy="522.2" r="2.2" fill="#10103A"/>
<line x1="334.5" y1="522.5" x2="322.6" y2="522.5" stroke="#3A1616" stroke-width="1.3"/>
<line x1="322.5" y1="510.8" x2="322.5" y2="533.6" stroke="#3A1616" stroke-width="1.3"/>
<line x1="319.5" y1="514.2" x2="319.5" y2="530.2" stroke="#3A1616" stroke-width="1.3"/>
<line x1="315.5" y1="517.7" x2="315.5" y2="526.7" stroke="#3A1616" stroke-width="1.3"/>
<line x1="312.5" y1="521.1" x2="312.5" y2="523.3" stroke="#3A1616" stroke-width="1.3"/>
<circle cx="392.8" cy="487.4" r="2.2" fill="#10103A"/>
<circle cx="392.8" cy="557.4" r="2.2" fill="#10103A"/>
<line x1="392.5" y1="487.4" x2="392.5" y2="513.3" stroke="#10103A" stroke-width="1.25"/>
<line x1="386.3" y1="513.5" x2="399.1" y2="513.5" stroke="#10103A" stroke-width="1.2"/>
<rect x="382.8" y="518.4" width="19.8" height="8.2" fill="none" stroke="#10103A" stroke-width="1.2"/>
<line x1="386.3" y1="532.5" x2="399.1" y2="532.5" stroke="#10103A" stroke-width="1.2"/>
<line x1="392.5" y1="532" x2="392.5" y2="557.4" stroke="#10103A" stroke-width="1.25"/>
<text x="370" y="485.8" font-size="10" fill="#1C1C66" stroke="#1C1C66" textLength="9.5" lengthAdjust="spacingAndGlyphs">C1</text>
<text x="370" y="497.5" font-size="10" fill="#1C1C66" stroke="#1C1C66" textLength="19.8" lengthAdjust="spacingAndGlyphs">10PF</text>
<text x="370" y="555.7" font-size="10" fill="#1C1C66" stroke="#1C1C66" textLength="9.5" lengthAdjust="spacingAndGlyphs">C2</text>
<text x="370" y="567.4" font-size="10" fill="#1C1C66" stroke="#1C1C66" textLength="19.8" lengthAdjust="spacingAndGlyphs">10PF</text>
<text x="404.5" y="519.1" font-size="10" fill="#1C1C66" stroke="#1C1C66" textLength="10.5" lengthAdjust="spacingAndGlyphs">Y1</text>
<text x="404.5" y="531.3" font-size="10" fill="#1C1C66" stroke="#1C1C66" textLength="42.4" lengthAdjust="spacingAndGlyphs">32.768Khz</text>
<text x="453.6" y="462.5" font-size="10" fill="#6A2020" stroke="#6A2020" textLength="17.8" lengthAdjust="spacingAndGlyphs" stroke-width="0">VCC</text>
<line x1="457.4" y1="464.5" x2="467.9" y2="464.5" stroke="#3A1616" stroke-width="1.3"/>
<polyline points="462.5,464.8 462.5,487.5 497.4,487.5" fill="none" stroke="#10103A" stroke-width="1.25" stroke-linejoin="miter"/>
<polyline points="497.4,557.5 462.5,557.5 462.5,581.4" fill="none" stroke="#10103A" stroke-width="1.25" stroke-linejoin="miter"/>
<line x1="451.1" y1="581.5" x2="473.9" y2="581.5" stroke="#3A1616" stroke-width="1.3"/>
<line x1="454.5" y1="584.5" x2="470.5" y2="584.5" stroke="#3A1616" stroke-width="1.3"/>
<line x1="458" y1="588.5" x2="467" y2="588.5" stroke="#3A1616" stroke-width="1.3"/>
<line x1="461.4" y1="591.5" x2="463.6" y2="591.5" stroke="#3A1616" stroke-width="1.3"/>
<text x="497.4" y="474.2" font-size="10" fill="#1C1C66" stroke="#1C1C66" textLength="10.6" lengthAdjust="spacingAndGlyphs">U2</text>
<rect x="497.4" y="476.8" width="69.1" height="91.2" fill="#FEFDB0" stroke="#5A2A10" stroke-width="1.2"/>
<text x="496.8" y="578.9" font-size="10" fill="#1C1C66" stroke="#1C1C66" textLength="31.6" lengthAdjust="spacingAndGlyphs">DS1302</text>
<text x="485.9" y="485.1" font-size="10" fill="#101010" stroke="#101010" text-anchor="middle">1</text>
<text x="509" y="491.1" font-size="10" fill="#101010" stroke="#101010" text-anchor="middle">1</text>
<text x="556.6" y="491.1" font-size="10" fill="#101010" stroke="#101010" text-anchor="middle">8</text>
<text x="579.6" y="485.1" font-size="10" fill="#101010" stroke="#101010" text-anchor="middle">8</text>
<text x="485.9" y="508.9" font-size="10" fill="#101010" stroke="#101010" text-anchor="middle">2</text>
<text x="509" y="514.9" font-size="10" fill="#101010" stroke="#101010" text-anchor="middle">2</text>
<text x="556.6" y="514.9" font-size="10" fill="#101010" stroke="#101010" text-anchor="middle">7</text>
<text x="579.6" y="508.9" font-size="10" fill="#101010" stroke="#101010" text-anchor="middle">7</text>
<text x="485.9" y="532.2" font-size="10" fill="#101010" stroke="#101010" text-anchor="middle">3</text>
<text x="509" y="538.2" font-size="10" fill="#101010" stroke="#101010" text-anchor="middle">3</text>
<text x="556.6" y="538.2" font-size="10" fill="#101010" stroke="#101010" text-anchor="middle">6</text>
<text x="579.6" y="532.2" font-size="10" fill="#101010" stroke="#101010" text-anchor="middle">6</text>
<text x="485.9" y="555.5" font-size="10" fill="#101010" stroke="#101010" text-anchor="middle">4</text>
<text x="509" y="561.5" font-size="10" fill="#101010" stroke="#101010" text-anchor="middle">4</text>
<text x="556.6" y="561.5" font-size="10" fill="#101010" stroke="#101010" text-anchor="middle">5</text>
<text x="579.6" y="555.5" font-size="10" fill="#101010" stroke="#101010" text-anchor="middle">5</text>
<polyline points="566.5,487.5 649.5,487.5 649.5,463.6" fill="none" stroke="#10103A" stroke-width="1.25" stroke-linejoin="miter"/>
<line x1="566.5" y1="511.5" x2="637.5" y2="511.5" stroke="#10103A" stroke-width="1.25"/>
<text x="614.3" y="508.9" font-size="10" fill="#782A2A" stroke="#782A2A" textLength="17.3" lengthAdjust="spacingAndGlyphs" stroke-width="0">P3.2</text>
<line x1="566.5" y1="534.5" x2="637.5" y2="534.5" stroke="#10103A" stroke-width="1.25"/>
<text x="614.3" y="532.2" font-size="10" fill="#782A2A" stroke="#782A2A" textLength="17.3" lengthAdjust="spacingAndGlyphs" stroke-width="0">P3.1</text>
<line x1="566.5" y1="557.5" x2="637.5" y2="557.5" stroke="#10103A" stroke-width="1.25"/>
<text x="614.3" y="555.5" font-size="10" fill="#782A2A" stroke="#782A2A" textLength="17.3" lengthAdjust="spacingAndGlyphs" stroke-width="0">P5.5</text>
<text x="637.4" y="439" font-size="10" fill="#1C1C66" stroke="#1C1C66" textLength="7" lengthAdjust="spacingAndGlyphs">J2</text>
<rect x="637.4" y="441.4" width="34.3" height="22.2" fill="#FEFDB0" stroke="#5A2A10" stroke-width="1.2"/>
<text transform="translate(648.4 453.6) rotate(-90)" font-size="10" fill="#101010" stroke="#101010" text-anchor="middle">1</text>
<text transform="translate(663.8 453.6) rotate(-90)" font-size="10" fill="#101010" stroke="#101010" text-anchor="middle">2</text>
<polyline points="661.5,463.6 661.5,487.5 696.4,487.5" fill="none" stroke="#10103A" stroke-width="1.25" stroke-linejoin="miter"/>
<line x1="696.5" y1="475.9" x2="696.5" y2="498.7" stroke="#3A1616" stroke-width="1.3"/>
<line x1="699.5" y1="479.3" x2="699.5" y2="495.3" stroke="#3A1616" stroke-width="1.3"/>
<line x1="703.5" y1="482.8" x2="703.5" y2="491.8" stroke="#3A1616" stroke-width="1.3"/>
<line x1="706.5" y1="486.2" x2="706.5" y2="488.4" stroke="#3A1616" stroke-width="1.3"/>
<path d="M674.1 456.6H680.5 V461 H674.1 ZM674.1 458.8H680.5M677.3 454.8V463.4 H681.9M683.2 455.6L684.4 456.6M682.8 458.4L684 459.4M683 463.4L684.6 460.6M685.8 458H691.6 V460.2M687.4 455.8V463.4 H691.8M689.4 455V461.2" stroke="#1C1C66" stroke-width="0.85" fill="none" opacity="0.8"/>
<text x="692.5" y="463.2" font-size="10" fill="#1C1C66" stroke="#1C1C66" textLength="17.4" lengthAdjust="spacingAndGlyphs">3.3V</text>
<text transform="translate(754.2 18.2) scale(0.86 1)" font-size="10" fill="#782A2A" stroke="#782A2A" stroke-width="0">S5</text>
<line x1="754.9" y1="21.5" x2="1034.51" y2="21.5" stroke="#10103A" stroke-width="1.25"/>
<text x="808.1" y="51.9" font-size="9.6" fill="#1C1C66" stroke="#1C1C66">D1</text>
<text x="843.13" y="51.9" font-size="9.6" fill="#1C1C66" stroke="#1C1C66">D2</text>
<text x="878.16" y="51.9" font-size="9.6" fill="#1C1C66" stroke="#1C1C66">D3</text>
<text x="913.19" y="51.9" font-size="9.6" fill="#1C1C66" stroke="#1C1C66">D4</text>
<text x="948.22" y="51.9" font-size="9.6" fill="#1C1C66" stroke="#1C1C66">D5</text>
<text x="983.25" y="51.9" font-size="9.6" fill="#1C1C66" stroke="#1C1C66">D6</text>
<text x="1018.28" y="51.9" font-size="9.6" fill="#1C1C66" stroke="#1C1C66">D7</text>
<text x="1053.31" y="51.9" font-size="9.6" fill="#1C1C66" stroke="#1C1C66">D8</text>
<circle cx="789.3" cy="21.4" r="2.1" fill="#10103A"/>
<line x1="789.5" y1="21.4" x2="789.5" y2="90.8" stroke="#10103A" stroke-width="1.25"/>
<polygon points="778.7,44.6 800.5,44.6 789.6,56.4" fill="#0A0AEA" stroke="none" stroke-width="1"/>
<line x1="778.7" y1="57" x2="800.5" y2="57" stroke="#0A0ACC" stroke-width="1.9"/>
<line x1="801.9" y1="46.2" x2="805.7" y2="49.8" stroke="#10103A" stroke-width="1.0"/>
<polygon points="807.9,51.8 802.9,51.8 807.9,47.2" fill="#10103A" stroke="none" stroke-width="1"/>
<line x1="801.9" y1="55.2" x2="805.7" y2="58.8" stroke="#10103A" stroke-width="1.0"/>
<polygon points="807.9,60.8 802.9,60.8 807.9,56.2" fill="#10103A" stroke="none" stroke-width="1"/>
<text transform="translate(789.6 89.2) scale(0.76 1)" font-size="10" fill="#782A2A" stroke="#782A2A" stroke-width="0">A</text>
<circle cx="824.33" cy="21.4" r="2.1" fill="#10103A"/>
<line x1="824.5" y1="21.4" x2="824.5" y2="90.8" stroke="#10103A" stroke-width="1.25"/>
<polygon points="813.73,44.6 835.53,44.6 824.63,56.4" fill="#0A0AEA" stroke="none" stroke-width="1"/>
<line x1="813.73" y1="57" x2="835.53" y2="57" stroke="#0A0ACC" stroke-width="1.9"/>
<line x1="836.93" y1="46.2" x2="840.73" y2="49.8" stroke="#10103A" stroke-width="1.0"/>
<polygon points="842.93,51.8 837.93,51.8 842.93,47.2" fill="#10103A" stroke="none" stroke-width="1"/>
<line x1="836.93" y1="55.2" x2="840.73" y2="58.8" stroke="#10103A" stroke-width="1.0"/>
<polygon points="842.93,60.8 837.93,60.8 842.93,56.2" fill="#10103A" stroke="none" stroke-width="1"/>
<text transform="translate(824.63 89.2) scale(0.76 1)" font-size="10" fill="#782A2A" stroke="#782A2A" stroke-width="0">B</text>
<circle cx="859.36" cy="21.4" r="2.1" fill="#10103A"/>
<line x1="859.5" y1="21.4" x2="859.5" y2="90.8" stroke="#10103A" stroke-width="1.25"/>
<polygon points="848.76,44.6 870.56,44.6 859.66,56.4" fill="#0A0AEA" stroke="none" stroke-width="1"/>
<line x1="848.76" y1="57" x2="870.56" y2="57" stroke="#0A0ACC" stroke-width="1.9"/>
<line x1="871.96" y1="46.2" x2="875.76" y2="49.8" stroke="#10103A" stroke-width="1.0"/>
<polygon points="877.96,51.8 872.96,51.8 877.96,47.2" fill="#10103A" stroke="none" stroke-width="1"/>
<line x1="871.96" y1="55.2" x2="875.76" y2="58.8" stroke="#10103A" stroke-width="1.0"/>
<polygon points="877.96,60.8 872.96,60.8 877.96,56.2" fill="#10103A" stroke="none" stroke-width="1"/>
<text transform="translate(859.66 89.2) scale(0.76 1)" font-size="10" fill="#782A2A" stroke="#782A2A" stroke-width="0">C</text>
<circle cx="894.39" cy="21.4" r="2.1" fill="#10103A"/>
<line x1="894.5" y1="21.4" x2="894.5" y2="90.8" stroke="#10103A" stroke-width="1.25"/>
<polygon points="883.79,44.6 905.59,44.6 894.69,56.4" fill="#0A0AEA" stroke="none" stroke-width="1"/>
<line x1="883.79" y1="57" x2="905.59" y2="57" stroke="#0A0ACC" stroke-width="1.9"/>
<line x1="906.99" y1="46.2" x2="910.79" y2="49.8" stroke="#10103A" stroke-width="1.0"/>
<polygon points="912.99,51.8 907.99,51.8 912.99,47.2" fill="#10103A" stroke="none" stroke-width="1"/>
<line x1="906.99" y1="55.2" x2="910.79" y2="58.8" stroke="#10103A" stroke-width="1.0"/>
<polygon points="912.99,60.8 907.99,60.8 912.99,56.2" fill="#10103A" stroke="none" stroke-width="1"/>
<text transform="translate(894.69 89.2) scale(0.76 1)" font-size="10" fill="#782A2A" stroke="#782A2A" stroke-width="0">D</text>
<circle cx="929.42" cy="21.4" r="2.1" fill="#10103A"/>
<line x1="929.5" y1="21.4" x2="929.5" y2="90.8" stroke="#10103A" stroke-width="1.25"/>
<polygon points="918.82,44.6 940.62,44.6 929.72,56.4" fill="#0A0AEA" stroke="none" stroke-width="1"/>
<line x1="918.82" y1="57" x2="940.62" y2="57" stroke="#0A0ACC" stroke-width="1.9"/>
<line x1="942.02" y1="46.2" x2="945.82" y2="49.8" stroke="#10103A" stroke-width="1.0"/>
<polygon points="948.02,51.8 943.02,51.8 948.02,47.2" fill="#10103A" stroke="none" stroke-width="1"/>
<line x1="942.02" y1="55.2" x2="945.82" y2="58.8" stroke="#10103A" stroke-width="1.0"/>
<polygon points="948.02,60.8 943.02,60.8 948.02,56.2" fill="#10103A" stroke="none" stroke-width="1"/>
<text transform="translate(929.72 89.2) scale(0.76 1)" font-size="10" fill="#782A2A" stroke="#782A2A" stroke-width="0">E</text>
<circle cx="964.45" cy="21.4" r="2.1" fill="#10103A"/>
<line x1="964.5" y1="21.4" x2="964.5" y2="90.8" stroke="#10103A" stroke-width="1.25"/>
<polygon points="953.85,44.6 975.65,44.6 964.75,56.4" fill="#0A0AEA" stroke="none" stroke-width="1"/>
<line x1="953.85" y1="57" x2="975.65" y2="57" stroke="#0A0ACC" stroke-width="1.9"/>
<line x1="977.05" y1="46.2" x2="980.85" y2="49.8" stroke="#10103A" stroke-width="1.0"/>
<polygon points="983.05,51.8 978.05,51.8 983.05,47.2" fill="#10103A" stroke="none" stroke-width="1"/>
<line x1="977.05" y1="55.2" x2="980.85" y2="58.8" stroke="#10103A" stroke-width="1.0"/>
<polygon points="983.05,60.8 978.05,60.8 983.05,56.2" fill="#10103A" stroke="none" stroke-width="1"/>
<text transform="translate(964.75 89.2) scale(0.76 1)" font-size="10" fill="#782A2A" stroke="#782A2A" stroke-width="0">F</text>
<circle cx="999.48" cy="21.4" r="2.1" fill="#10103A"/>
<line x1="999.5" y1="21.4" x2="999.5" y2="90.8" stroke="#10103A" stroke-width="1.25"/>
<polygon points="988.88,44.6 1010.68,44.6 999.78,56.4" fill="#0A0AEA" stroke="none" stroke-width="1"/>
<line x1="988.88" y1="57" x2="1010.68" y2="57" stroke="#0A0ACC" stroke-width="1.9"/>
<line x1="1012.08" y1="46.2" x2="1015.88" y2="49.8" stroke="#10103A" stroke-width="1.0"/>
<polygon points="1018.08,51.8 1013.08,51.8 1018.08,47.2" fill="#10103A" stroke="none" stroke-width="1"/>
<line x1="1012.08" y1="55.2" x2="1015.88" y2="58.8" stroke="#10103A" stroke-width="1.0"/>
<polygon points="1018.08,60.8 1013.08,60.8 1018.08,56.2" fill="#10103A" stroke="none" stroke-width="1"/>
<text transform="translate(999.78 89.2) scale(0.76 1)" font-size="10" fill="#782A2A" stroke="#782A2A" stroke-width="0">G</text>
<line x1="1034.5" y1="21.4" x2="1034.5" y2="90.8" stroke="#10103A" stroke-width="1.25"/>
<polygon points="1023.91,44.6 1045.71,44.6 1034.81,56.4" fill="#0A0AEA" stroke="none" stroke-width="1"/>
<line x1="1023.91" y1="57" x2="1045.71" y2="57" stroke="#0A0ACC" stroke-width="1.9"/>
<line x1="1047.11" y1="46.2" x2="1050.91" y2="49.8" stroke="#10103A" stroke-width="1.0"/>
<polygon points="1053.11,51.8 1048.11,51.8 1053.11,47.2" fill="#10103A" stroke="none" stroke-width="1"/>
<line x1="1047.11" y1="55.2" x2="1050.91" y2="58.8" stroke="#10103A" stroke-width="1.0"/>
<polygon points="1053.11,60.8 1048.11,60.8 1053.11,56.2" fill="#10103A" stroke="none" stroke-width="1"/>
<text transform="translate(1034.81 89.2) scale(0.76 1)" font-size="10" fill="#782A2A" stroke="#782A2A" stroke-width="0">H</text>
<text transform="translate(754.2 99.73) scale(0.86 1)" font-size="10" fill="#782A2A" stroke="#782A2A" stroke-width="0">S6</text>
<line x1="754.9" y1="102.5" x2="1034.51" y2="102.5" stroke="#10103A" stroke-width="1.25"/>
<text x="808.1" y="133.51" font-size="9.6" fill="#1C1C66" stroke="#1C1C66">D9</text>
<text x="843.13" y="133.51" font-size="9.6" fill="#1C1C66" stroke="#1C1C66">D10</text>
<text x="878.16" y="133.51" font-size="9.6" fill="#1C1C66" stroke="#1C1C66">D11</text>
<text x="913.19" y="133.51" font-size="9.6" fill="#1C1C66" stroke="#1C1C66">D12</text>
<text x="948.22" y="133.51" font-size="9.6" fill="#1C1C66" stroke="#1C1C66">D13</text>
<text x="983.25" y="133.51" font-size="9.6" fill="#1C1C66" stroke="#1C1C66">D14</text>
<text x="1018.28" y="133.51" font-size="9.6" fill="#1C1C66" stroke="#1C1C66">D15</text>
<text x="1053.31" y="133.51" font-size="9.6" fill="#1C1C66" stroke="#1C1C66">D16</text>
<circle cx="789.3" cy="102.93" r="2.1" fill="#10103A"/>
<line x1="789.5" y1="102.93" x2="789.5" y2="172.33" stroke="#10103A" stroke-width="1.25"/>
<polygon points="778.7,126.21 800.5,126.21 789.6,138.01" fill="#0A0AEA" stroke="none" stroke-width="1"/>
<line x1="778.7" y1="138.61" x2="800.5" y2="138.61" stroke="#0A0ACC" stroke-width="1.9"/>
<line x1="801.9" y1="127.81" x2="805.7" y2="131.41" stroke="#10103A" stroke-width="1.0"/>
<polygon points="807.9,133.41 802.9,133.41 807.9,128.81" fill="#10103A" stroke="none" stroke-width="1"/>
<line x1="801.9" y1="136.81" x2="805.7" y2="140.41" stroke="#10103A" stroke-width="1.0"/>
<polygon points="807.9,142.41 802.9,142.41 807.9,137.81" fill="#10103A" stroke="none" stroke-width="1"/>
<text transform="translate(789.6 170.73) scale(0.76 1)" font-size="10" fill="#782A2A" stroke="#782A2A" stroke-width="0">A</text>
<circle cx="824.33" cy="102.93" r="2.1" fill="#10103A"/>
<line x1="824.5" y1="102.93" x2="824.5" y2="172.33" stroke="#10103A" stroke-width="1.25"/>
<polygon points="813.73,126.21 835.53,126.21 824.63,138.01" fill="#0A0AEA" stroke="none" stroke-width="1"/>
<line x1="813.73" y1="138.61" x2="835.53" y2="138.61" stroke="#0A0ACC" stroke-width="1.9"/>
<line x1="836.93" y1="127.81" x2="840.73" y2="131.41" stroke="#10103A" stroke-width="1.0"/>
<polygon points="842.93,133.41 837.93,133.41 842.93,128.81" fill="#10103A" stroke="none" stroke-width="1"/>
<line x1="836.93" y1="136.81" x2="840.73" y2="140.41" stroke="#10103A" stroke-width="1.0"/>
<polygon points="842.93,142.41 837.93,142.41 842.93,137.81" fill="#10103A" stroke="none" stroke-width="1"/>
<text transform="translate(824.63 170.73) scale(0.76 1)" font-size="10" fill="#782A2A" stroke="#782A2A" stroke-width="0">B</text>
<circle cx="859.36" cy="102.93" r="2.1" fill="#10103A"/>
<line x1="859.5" y1="102.93" x2="859.5" y2="172.33" stroke="#10103A" stroke-width="1.25"/>
<polygon points="848.76,126.21 870.56,126.21 859.66,138.01" fill="#0A0AEA" stroke="none" stroke-width="1"/>
<line x1="848.76" y1="138.61" x2="870.56" y2="138.61" stroke="#0A0ACC" stroke-width="1.9"/>
<line x1="871.96" y1="127.81" x2="875.76" y2="131.41" stroke="#10103A" stroke-width="1.0"/>
<polygon points="877.96,133.41 872.96,133.41 877.96,128.81" fill="#10103A" stroke="none" stroke-width="1"/>
<line x1="871.96" y1="136.81" x2="875.76" y2="140.41" stroke="#10103A" stroke-width="1.0"/>
<polygon points="877.96,142.41 872.96,142.41 877.96,137.81" fill="#10103A" stroke="none" stroke-width="1"/>
<text transform="translate(859.66 170.73) scale(0.76 1)" font-size="10" fill="#782A2A" stroke="#782A2A" stroke-width="0">C</text>
<circle cx="894.39" cy="102.93" r="2.1" fill="#10103A"/>
<line x1="894.5" y1="102.93" x2="894.5" y2="172.33" stroke="#10103A" stroke-width="1.25"/>
<polygon points="883.79,126.21 905.59,126.21 894.69,138.01" fill="#0A0AEA" stroke="none" stroke-width="1"/>
<line x1="883.79" y1="138.61" x2="905.59" y2="138.61" stroke="#0A0ACC" stroke-width="1.9"/>
<line x1="906.99" y1="127.81" x2="910.79" y2="131.41" stroke="#10103A" stroke-width="1.0"/>
<polygon points="912.99,133.41 907.99,133.41 912.99,128.81" fill="#10103A" stroke="none" stroke-width="1"/>
<line x1="906.99" y1="136.81" x2="910.79" y2="140.41" stroke="#10103A" stroke-width="1.0"/>
<polygon points="912.99,142.41 907.99,142.41 912.99,137.81" fill="#10103A" stroke="none" stroke-width="1"/>
<text transform="translate(894.69 170.73) scale(0.76 1)" font-size="10" fill="#782A2A" stroke="#782A2A" stroke-width="0">D</text>
<circle cx="929.42" cy="102.93" r="2.1" fill="#10103A"/>
<line x1="929.5" y1="102.93" x2="929.5" y2="172.33" stroke="#10103A" stroke-width="1.25"/>
<polygon points="918.82,126.21 940.62,126.21 929.72,138.01" fill="#0A0AEA" stroke="none" stroke-width="1"/>
<line x1="918.82" y1="138.61" x2="940.62" y2="138.61" stroke="#0A0ACC" stroke-width="1.9"/>
<line x1="942.02" y1="127.81" x2="945.82" y2="131.41" stroke="#10103A" stroke-width="1.0"/>
<polygon points="948.02,133.41 943.02,133.41 948.02,128.81" fill="#10103A" stroke="none" stroke-width="1"/>
<line x1="942.02" y1="136.81" x2="945.82" y2="140.41" stroke="#10103A" stroke-width="1.0"/>
<polygon points="948.02,142.41 943.02,142.41 948.02,137.81" fill="#10103A" stroke="none" stroke-width="1"/>
<text transform="translate(929.72 170.73) scale(0.76 1)" font-size="10" fill="#782A2A" stroke="#782A2A" stroke-width="0">E</text>
<circle cx="964.45" cy="102.93" r="2.1" fill="#10103A"/>
<line x1="964.5" y1="102.93" x2="964.5" y2="172.33" stroke="#10103A" stroke-width="1.25"/>
<polygon points="953.85,126.21 975.65,126.21 964.75,138.01" fill="#0A0AEA" stroke="none" stroke-width="1"/>
<line x1="953.85" y1="138.61" x2="975.65" y2="138.61" stroke="#0A0ACC" stroke-width="1.9"/>
<line x1="977.05" y1="127.81" x2="980.85" y2="131.41" stroke="#10103A" stroke-width="1.0"/>
<polygon points="983.05,133.41 978.05,133.41 983.05,128.81" fill="#10103A" stroke="none" stroke-width="1"/>
<line x1="977.05" y1="136.81" x2="980.85" y2="140.41" stroke="#10103A" stroke-width="1.0"/>
<polygon points="983.05,142.41 978.05,142.41 983.05,137.81" fill="#10103A" stroke="none" stroke-width="1"/>
<text transform="translate(964.75 170.73) scale(0.76 1)" font-size="10" fill="#782A2A" stroke="#782A2A" stroke-width="0">F</text>
<circle cx="999.48" cy="102.93" r="2.1" fill="#10103A"/>
<line x1="999.5" y1="102.93" x2="999.5" y2="172.33" stroke="#10103A" stroke-width="1.25"/>
<polygon points="988.88,126.21 1010.68,126.21 999.78,138.01" fill="#0A0AEA" stroke="none" stroke-width="1"/>
<line x1="988.88" y1="138.61" x2="1010.68" y2="138.61" stroke="#0A0ACC" stroke-width="1.9"/>
<line x1="1012.08" y1="127.81" x2="1015.88" y2="131.41" stroke="#10103A" stroke-width="1.0"/>
<polygon points="1018.08,133.41 1013.08,133.41 1018.08,128.81" fill="#10103A" stroke="none" stroke-width="1"/>
<line x1="1012.08" y1="136.81" x2="1015.88" y2="140.41" stroke="#10103A" stroke-width="1.0"/>
<polygon points="1018.08,142.41 1013.08,142.41 1018.08,137.81" fill="#10103A" stroke="none" stroke-width="1"/>
<text transform="translate(999.78 170.73) scale(0.76 1)" font-size="10" fill="#782A2A" stroke="#782A2A" stroke-width="0">G</text>
<line x1="1034.5" y1="102.93" x2="1034.5" y2="172.33" stroke="#10103A" stroke-width="1.25"/>
<polygon points="1023.91,126.21 1045.71,126.21 1034.81,138.01" fill="#0A0AEA" stroke="none" stroke-width="1"/>
<line x1="1023.91" y1="138.61" x2="1045.71" y2="138.61" stroke="#0A0ACC" stroke-width="1.9"/>
<line x1="1047.11" y1="127.81" x2="1050.91" y2="131.41" stroke="#10103A" stroke-width="1.0"/>
<polygon points="1053.11,133.41 1048.11,133.41 1053.11,128.81" fill="#10103A" stroke="none" stroke-width="1"/>
<line x1="1047.11" y1="136.81" x2="1050.91" y2="140.41" stroke="#10103A" stroke-width="1.0"/>
<polygon points="1053.11,142.41 1048.11,142.41 1053.11,137.81" fill="#10103A" stroke="none" stroke-width="1"/>
<text transform="translate(1034.81 170.73) scale(0.76 1)" font-size="10" fill="#782A2A" stroke="#782A2A" stroke-width="0">H</text>
<text transform="translate(754.2 181.26) scale(0.86 1)" font-size="10" fill="#782A2A" stroke="#782A2A" stroke-width="0">S7</text>
<line x1="754.9" y1="184.5" x2="1034.51" y2="184.5" stroke="#10103A" stroke-width="1.25"/>
<text x="808.1" y="215.12" font-size="9.6" fill="#1C1C66" stroke="#1C1C66">D17</text>
<text x="843.13" y="215.12" font-size="9.6" fill="#1C1C66" stroke="#1C1C66">D18</text>
<text x="878.16" y="215.12" font-size="9.6" fill="#1C1C66" stroke="#1C1C66">D19</text>
<text x="913.19" y="215.12" font-size="9.6" fill="#1C1C66" stroke="#1C1C66">D20</text>
<text x="948.22" y="215.12" font-size="9.6" fill="#1C1C66" stroke="#1C1C66">D21</text>
<text x="983.25" y="215.12" font-size="9.6" fill="#1C1C66" stroke="#1C1C66">D22</text>
<text x="1018.28" y="215.12" font-size="9.6" fill="#1C1C66" stroke="#1C1C66">D23</text>
<text x="1053.31" y="215.12" font-size="9.6" fill="#1C1C66" stroke="#1C1C66">D24</text>
<circle cx="789.3" cy="184.46" r="2.1" fill="#10103A"/>
<line x1="789.5" y1="184.46" x2="789.5" y2="253.86" stroke="#10103A" stroke-width="1.25"/>
<polygon points="778.7,207.82 800.5,207.82 789.6,219.62" fill="#0A0AEA" stroke="none" stroke-width="1"/>
<line x1="778.7" y1="220.22" x2="800.5" y2="220.22" stroke="#0A0ACC" stroke-width="1.9"/>
<line x1="801.9" y1="209.42" x2="805.7" y2="213.02" stroke="#10103A" stroke-width="1.0"/>
<polygon points="807.9,215.02 802.9,215.02 807.9,210.42" fill="#10103A" stroke="none" stroke-width="1"/>
<line x1="801.9" y1="218.42" x2="805.7" y2="222.02" stroke="#10103A" stroke-width="1.0"/>
<polygon points="807.9,224.02 802.9,224.02 807.9,219.42" fill="#10103A" stroke="none" stroke-width="1"/>
<text transform="translate(789.6 252.26) scale(0.76 1)" font-size="10" fill="#782A2A" stroke="#782A2A" stroke-width="0">A</text>
<circle cx="824.33" cy="184.46" r="2.1" fill="#10103A"/>
<line x1="824.5" y1="184.46" x2="824.5" y2="253.86" stroke="#10103A" stroke-width="1.25"/>
<polygon points="813.73,207.82 835.53,207.82 824.63,219.62" fill="#0A0AEA" stroke="none" stroke-width="1"/>
<line x1="813.73" y1="220.22" x2="835.53" y2="220.22" stroke="#0A0ACC" stroke-width="1.9"/>
<line x1="836.93" y1="209.42" x2="840.73" y2="213.02" stroke="#10103A" stroke-width="1.0"/>
<polygon points="842.93,215.02 837.93,215.02 842.93,210.42" fill="#10103A" stroke="none" stroke-width="1"/>
<line x1="836.93" y1="218.42" x2="840.73" y2="222.02" stroke="#10103A" stroke-width="1.0"/>
<polygon points="842.93,224.02 837.93,224.02 842.93,219.42" fill="#10103A" stroke="none" stroke-width="1"/>
<text transform="translate(824.63 252.26) scale(0.76 1)" font-size="10" fill="#782A2A" stroke="#782A2A" stroke-width="0">B</text>
<circle cx="859.36" cy="184.46" r="2.1" fill="#10103A"/>
<line x1="859.5" y1="184.46" x2="859.5" y2="253.86" stroke="#10103A" stroke-width="1.25"/>
<polygon points="848.76,207.82 870.56,207.82 859.66,219.62" fill="#0A0AEA" stroke="none" stroke-width="1"/>
<line x1="848.76" y1="220.22" x2="870.56" y2="220.22" stroke="#0A0ACC" stroke-width="1.9"/>
<line x1="871.96" y1="209.42" x2="875.76" y2="213.02" stroke="#10103A" stroke-width="1.0"/>
<polygon points="877.96,215.02 872.96,215.02 877.96,210.42" fill="#10103A" stroke="none" stroke-width="1"/>
<line x1="871.96" y1="218.42" x2="875.76" y2="222.02" stroke="#10103A" stroke-width="1.0"/>
<polygon points="877.96,224.02 872.96,224.02 877.96,219.42" fill="#10103A" stroke="none" stroke-width="1"/>
<text transform="translate(859.66 252.26) scale(0.76 1)" font-size="10" fill="#782A2A" stroke="#782A2A" stroke-width="0">C</text>
<circle cx="894.39" cy="184.46" r="2.1" fill="#10103A"/>
<line x1="894.5" y1="184.46" x2="894.5" y2="253.86" stroke="#10103A" stroke-width="1.25"/>
<polygon points="883.79,207.82 905.59,207.82 894.69,219.62" fill="#0A0AEA" stroke="none" stroke-width="1"/>
<line x1="883.79" y1="220.22" x2="905.59" y2="220.22" stroke="#0A0ACC" stroke-width="1.9"/>
<line x1="906.99" y1="209.42" x2="910.79" y2="213.02" stroke="#10103A" stroke-width="1.0"/>
<polygon points="912.99,215.02 907.99,215.02 912.99,210.42" fill="#10103A" stroke="none" stroke-width="1"/>
<line x1="906.99" y1="218.42" x2="910.79" y2="222.02" stroke="#10103A" stroke-width="1.0"/>
<polygon points="912.99,224.02 907.99,224.02 912.99,219.42" fill="#10103A" stroke="none" stroke-width="1"/>
<text transform="translate(894.69 252.26) scale(0.76 1)" font-size="10" fill="#782A2A" stroke="#782A2A" stroke-width="0">D</text>
<circle cx="929.42" cy="184.46" r="2.1" fill="#10103A"/>
<line x1="929.5" y1="184.46" x2="929.5" y2="253.86" stroke="#10103A" stroke-width="1.25"/>
<polygon points="918.82,207.82 940.62,207.82 929.72,219.62" fill="#0A0AEA" stroke="none" stroke-width="1"/>
<line x1="918.82" y1="220.22" x2="940.62" y2="220.22" stroke="#0A0ACC" stroke-width="1.9"/>
<line x1="942.02" y1="209.42" x2="945.82" y2="213.02" stroke="#10103A" stroke-width="1.0"/>
<polygon points="948.02,215.02 943.02,215.02 948.02,210.42" fill="#10103A" stroke="none" stroke-width="1"/>
<line x1="942.02" y1="218.42" x2="945.82" y2="222.02" stroke="#10103A" stroke-width="1.0"/>
<polygon points="948.02,224.02 943.02,224.02 948.02,219.42" fill="#10103A" stroke="none" stroke-width="1"/>
<text transform="translate(929.72 252.26) scale(0.76 1)" font-size="10" fill="#782A2A" stroke="#782A2A" stroke-width="0">E</text>
<circle cx="964.45" cy="184.46" r="2.1" fill="#10103A"/>
<line x1="964.5" y1="184.46" x2="964.5" y2="253.86" stroke="#10103A" stroke-width="1.25"/>
<polygon points="953.85,207.82 975.65,207.82 964.75,219.62" fill="#0A0AEA" stroke="none" stroke-width="1"/>
<line x1="953.85" y1="220.22" x2="975.65" y2="220.22" stroke="#0A0ACC" stroke-width="1.9"/>
<line x1="977.05" y1="209.42" x2="980.85" y2="213.02" stroke="#10103A" stroke-width="1.0"/>
<polygon points="983.05,215.02 978.05,215.02 983.05,210.42" fill="#10103A" stroke="none" stroke-width="1"/>
<line x1="977.05" y1="218.42" x2="980.85" y2="222.02" stroke="#10103A" stroke-width="1.0"/>
<polygon points="983.05,224.02 978.05,224.02 983.05,219.42" fill="#10103A" stroke="none" stroke-width="1"/>
<text transform="translate(964.75 252.26) scale(0.76 1)" font-size="10" fill="#782A2A" stroke="#782A2A" stroke-width="0">F</text>
<circle cx="999.48" cy="184.46" r="2.1" fill="#10103A"/>
<line x1="999.5" y1="184.46" x2="999.5" y2="253.86" stroke="#10103A" stroke-width="1.25"/>
<polygon points="988.88,207.82 1010.68,207.82 999.78,219.62" fill="#0A0AEA" stroke="none" stroke-width="1"/>
<line x1="988.88" y1="220.22" x2="1010.68" y2="220.22" stroke="#0A0ACC" stroke-width="1.9"/>
<line x1="1012.08" y1="209.42" x2="1015.88" y2="213.02" stroke="#10103A" stroke-width="1.0"/>
<polygon points="1018.08,215.02 1013.08,215.02 1018.08,210.42" fill="#10103A" stroke="none" stroke-width="1"/>
<line x1="1012.08" y1="218.42" x2="1015.88" y2="222.02" stroke="#10103A" stroke-width="1.0"/>
<polygon points="1018.08,224.02 1013.08,224.02 1018.08,219.42" fill="#10103A" stroke="none" stroke-width="1"/>
<text transform="translate(999.78 252.26) scale(0.76 1)" font-size="10" fill="#782A2A" stroke="#782A2A" stroke-width="0">G</text>
<line x1="1034.5" y1="184.46" x2="1034.5" y2="253.86" stroke="#10103A" stroke-width="1.25"/>
<polygon points="1023.91,207.82 1045.71,207.82 1034.81,219.62" fill="#0A0AEA" stroke="none" stroke-width="1"/>
<line x1="1023.91" y1="220.22" x2="1045.71" y2="220.22" stroke="#0A0ACC" stroke-width="1.9"/>
<line x1="1047.11" y1="209.42" x2="1050.91" y2="213.02" stroke="#10103A" stroke-width="1.0"/>
<polygon points="1053.11,215.02 1048.11,215.02 1053.11,210.42" fill="#10103A" stroke="none" stroke-width="1"/>
<line x1="1047.11" y1="218.42" x2="1050.91" y2="222.02" stroke="#10103A" stroke-width="1.0"/>
<polygon points="1053.11,224.02 1048.11,224.02 1053.11,219.42" fill="#10103A" stroke="none" stroke-width="1"/>
<text transform="translate(1034.81 252.26) scale(0.76 1)" font-size="10" fill="#782A2A" stroke="#782A2A" stroke-width="0">H</text>
<text transform="translate(754.2 262.79) scale(0.86 1)" font-size="10" fill="#782A2A" stroke="#782A2A" stroke-width="0">S8</text>
<line x1="754.9" y1="265.5" x2="1034.51" y2="265.5" stroke="#10103A" stroke-width="1.25"/>
<text x="808.1" y="296.73" font-size="9.6" fill="#1C1C66" stroke="#1C1C66">D25</text>
<text x="843.13" y="296.73" font-size="9.6" fill="#1C1C66" stroke="#1C1C66">D26</text>
<text x="878.16" y="296.73" font-size="9.6" fill="#1C1C66" stroke="#1C1C66">D27</text>
<text x="913.19" y="296.73" font-size="9.6" fill="#1C1C66" stroke="#1C1C66">D28</text>
<text x="948.22" y="296.73" font-size="9.6" fill="#1C1C66" stroke="#1C1C66">D29</text>
<text x="983.25" y="296.73" font-size="9.6" fill="#1C1C66" stroke="#1C1C66">D30</text>
<text x="1018.28" y="296.73" font-size="9.6" fill="#1C1C66" stroke="#1C1C66">D31</text>
<text x="1053.31" y="296.73" font-size="9.6" fill="#1C1C66" stroke="#1C1C66">D32</text>
<circle cx="789.3" cy="265.99" r="2.1" fill="#10103A"/>
<line x1="789.5" y1="265.99" x2="789.5" y2="335.39" stroke="#10103A" stroke-width="1.25"/>
<polygon points="778.7,289.43 800.5,289.43 789.6,301.23" fill="#0A0AEA" stroke="none" stroke-width="1"/>
<line x1="778.7" y1="301.83" x2="800.5" y2="301.83" stroke="#0A0ACC" stroke-width="1.9"/>
<line x1="801.9" y1="291.03" x2="805.7" y2="294.63" stroke="#10103A" stroke-width="1.0"/>
<polygon points="807.9,296.63 802.9,296.63 807.9,292.03" fill="#10103A" stroke="none" stroke-width="1"/>
<line x1="801.9" y1="300.03" x2="805.7" y2="303.63" stroke="#10103A" stroke-width="1.0"/>
<polygon points="807.9,305.63 802.9,305.63 807.9,301.03" fill="#10103A" stroke="none" stroke-width="1"/>
<text transform="translate(789.6 333.79) scale(0.76 1)" font-size="10" fill="#782A2A" stroke="#782A2A" stroke-width="0">A</text>
<circle cx="824.33" cy="265.99" r="2.1" fill="#10103A"/>
<line x1="824.5" y1="265.99" x2="824.5" y2="335.39" stroke="#10103A" stroke-width="1.25"/>
<polygon points="813.73,289.43 835.53,289.43 824.63,301.23" fill="#0A0AEA" stroke="none" stroke-width="1"/>
<line x1="813.73" y1="301.83" x2="835.53" y2="301.83" stroke="#0A0ACC" stroke-width="1.9"/>
<line x1="836.93" y1="291.03" x2="840.73" y2="294.63" stroke="#10103A" stroke-width="1.0"/>
<polygon points="842.93,296.63 837.93,296.63 842.93,292.03" fill="#10103A" stroke="none" stroke-width="1"/>
<line x1="836.93" y1="300.03" x2="840.73" y2="303.63" stroke="#10103A" stroke-width="1.0"/>
<polygon points="842.93,305.63 837.93,305.63 842.93,301.03" fill="#10103A" stroke="none" stroke-width="1"/>
<text transform="translate(824.63 333.79) scale(0.76 1)" font-size="10" fill="#782A2A" stroke="#782A2A" stroke-width="0">B</text>
<circle cx="859.36" cy="265.99" r="2.1" fill="#10103A"/>
<line x1="859.5" y1="265.99" x2="859.5" y2="335.39" stroke="#10103A" stroke-width="1.25"/>
<polygon points="848.76,289.43 870.56,289.43 859.66,301.23" fill="#0A0AEA" stroke="none" stroke-width="1"/>
<line x1="848.76" y1="301.83" x2="870.56" y2="301.83" stroke="#0A0ACC" stroke-width="1.9"/>
<line x1="871.96" y1="291.03" x2="875.76" y2="294.63" stroke="#10103A" stroke-width="1.0"/>
<polygon points="877.96,296.63 872.96,296.63 877.96,292.03" fill="#10103A" stroke="none" stroke-width="1"/>
<line x1="871.96" y1="300.03" x2="875.76" y2="303.63" stroke="#10103A" stroke-width="1.0"/>
<polygon points="877.96,305.63 872.96,305.63 877.96,301.03" fill="#10103A" stroke="none" stroke-width="1"/>
<text transform="translate(859.66 333.79) scale(0.76 1)" font-size="10" fill="#782A2A" stroke="#782A2A" stroke-width="0">C</text>
<circle cx="894.39" cy="265.99" r="2.1" fill="#10103A"/>
<line x1="894.5" y1="265.99" x2="894.5" y2="335.39" stroke="#10103A" stroke-width="1.25"/>
<polygon points="883.79,289.43 905.59,289.43 894.69,301.23" fill="#0A0AEA" stroke="none" stroke-width="1"/>
<line x1="883.79" y1="301.83" x2="905.59" y2="301.83" stroke="#0A0ACC" stroke-width="1.9"/>
<line x1="906.99" y1="291.03" x2="910.79" y2="294.63" stroke="#10103A" stroke-width="1.0"/>
<polygon points="912.99,296.63 907.99,296.63 912.99,292.03" fill="#10103A" stroke="none" stroke-width="1"/>
<line x1="906.99" y1="300.03" x2="910.79" y2="303.63" stroke="#10103A" stroke-width="1.0"/>
<polygon points="912.99,305.63 907.99,305.63 912.99,301.03" fill="#10103A" stroke="none" stroke-width="1"/>
<text transform="translate(894.69 333.79) scale(0.76 1)" font-size="10" fill="#782A2A" stroke="#782A2A" stroke-width="0">D</text>
<circle cx="929.42" cy="265.99" r="2.1" fill="#10103A"/>
<line x1="929.5" y1="265.99" x2="929.5" y2="335.39" stroke="#10103A" stroke-width="1.25"/>
<polygon points="918.82,289.43 940.62,289.43 929.72,301.23" fill="#0A0AEA" stroke="none" stroke-width="1"/>
<line x1="918.82" y1="301.83" x2="940.62" y2="301.83" stroke="#0A0ACC" stroke-width="1.9"/>
<line x1="942.02" y1="291.03" x2="945.82" y2="294.63" stroke="#10103A" stroke-width="1.0"/>
<polygon points="948.02,296.63 943.02,296.63 948.02,292.03" fill="#10103A" stroke="none" stroke-width="1"/>
<line x1="942.02" y1="300.03" x2="945.82" y2="303.63" stroke="#10103A" stroke-width="1.0"/>
<polygon points="948.02,305.63 943.02,305.63 948.02,301.03" fill="#10103A" stroke="none" stroke-width="1"/>
<text transform="translate(929.72 333.79) scale(0.76 1)" font-size="10" fill="#782A2A" stroke="#782A2A" stroke-width="0">E</text>
<circle cx="964.45" cy="265.99" r="2.1" fill="#10103A"/>
<line x1="964.5" y1="265.99" x2="964.5" y2="335.39" stroke="#10103A" stroke-width="1.25"/>
<polygon points="953.85,289.43 975.65,289.43 964.75,301.23" fill="#0A0AEA" stroke="none" stroke-width="1"/>
<line x1="953.85" y1="301.83" x2="975.65" y2="301.83" stroke="#0A0ACC" stroke-width="1.9"/>
<line x1="977.05" y1="291.03" x2="980.85" y2="294.63" stroke="#10103A" stroke-width="1.0"/>
<polygon points="983.05,296.63 978.05,296.63 983.05,292.03" fill="#10103A" stroke="none" stroke-width="1"/>
<line x1="977.05" y1="300.03" x2="980.85" y2="303.63" stroke="#10103A" stroke-width="1.0"/>
<polygon points="983.05,305.63 978.05,305.63 983.05,301.03" fill="#10103A" stroke="none" stroke-width="1"/>
<text transform="translate(964.75 333.79) scale(0.76 1)" font-size="10" fill="#782A2A" stroke="#782A2A" stroke-width="0">F</text>
<circle cx="999.48" cy="265.99" r="2.1" fill="#10103A"/>
<line x1="999.5" y1="265.99" x2="999.5" y2="335.39" stroke="#10103A" stroke-width="1.25"/>
<polygon points="988.88,289.43 1010.68,289.43 999.78,301.23" fill="#0A0AEA" stroke="none" stroke-width="1"/>
<line x1="988.88" y1="301.83" x2="1010.68" y2="301.83" stroke="#0A0ACC" stroke-width="1.9"/>
<line x1="1012.08" y1="291.03" x2="1015.88" y2="294.63" stroke="#10103A" stroke-width="1.0"/>
<polygon points="1018.08,296.63 1013.08,296.63 1018.08,292.03" fill="#10103A" stroke="none" stroke-width="1"/>
<line x1="1012.08" y1="300.03" x2="1015.88" y2="303.63" stroke="#10103A" stroke-width="1.0"/>
<polygon points="1018.08,305.63 1013.08,305.63 1018.08,301.03" fill="#10103A" stroke="none" stroke-width="1"/>
<text transform="translate(999.78 333.79) scale(0.76 1)" font-size="10" fill="#782A2A" stroke="#782A2A" stroke-width="0">G</text>
<line x1="1034.5" y1="265.99" x2="1034.5" y2="335.39" stroke="#10103A" stroke-width="1.25"/>
<polygon points="1023.91,289.43 1045.71,289.43 1034.81,301.23" fill="#0A0AEA" stroke="none" stroke-width="1"/>
<line x1="1023.91" y1="301.83" x2="1045.71" y2="301.83" stroke="#0A0ACC" stroke-width="1.9"/>
<line x1="1047.11" y1="291.03" x2="1050.91" y2="294.63" stroke="#10103A" stroke-width="1.0"/>
<polygon points="1053.11,296.63 1048.11,296.63 1053.11,292.03" fill="#10103A" stroke="none" stroke-width="1"/>
<line x1="1047.11" y1="300.03" x2="1050.91" y2="303.63" stroke="#10103A" stroke-width="1.0"/>
<polygon points="1053.11,305.63 1048.11,305.63 1053.11,301.03" fill="#10103A" stroke="none" stroke-width="1"/>
<text transform="translate(1034.81 333.79) scale(0.76 1)" font-size="10" fill="#782A2A" stroke="#782A2A" stroke-width="0">H</text>
<text transform="translate(754.2 344.32) scale(0.86 1)" font-size="10" fill="#782A2A" stroke="#782A2A" stroke-width="0">S9</text>
<line x1="754.9" y1="347.5" x2="1034.51" y2="347.5" stroke="#10103A" stroke-width="1.25"/>
<text x="808.1" y="378.34" font-size="9.6" fill="#1C1C66" stroke="#1C1C66">D33</text>
<text x="843.13" y="378.34" font-size="9.6" fill="#1C1C66" stroke="#1C1C66">D34</text>
<text x="878.16" y="378.34" font-size="9.6" fill="#1C1C66" stroke="#1C1C66">D35</text>
<text x="913.19" y="378.34" font-size="9.6" fill="#1C1C66" stroke="#1C1C66">D36</text>
<text x="948.22" y="378.34" font-size="9.6" fill="#1C1C66" stroke="#1C1C66">D37</text>
<text x="983.25" y="378.34" font-size="9.6" fill="#1C1C66" stroke="#1C1C66">D38</text>
<text x="1018.28" y="378.34" font-size="9.6" fill="#1C1C66" stroke="#1C1C66">D39</text>
<text x="1053.31" y="378.34" font-size="9.6" fill="#1C1C66" stroke="#1C1C66">D40</text>
<circle cx="789.3" cy="347.52" r="2.1" fill="#10103A"/>
<line x1="789.5" y1="347.52" x2="789.5" y2="416.92" stroke="#10103A" stroke-width="1.25"/>
<polygon points="778.7,371.04 800.5,371.04 789.6,382.84" fill="#0A0AEA" stroke="none" stroke-width="1"/>
<line x1="778.7" y1="383.44" x2="800.5" y2="383.44" stroke="#0A0ACC" stroke-width="1.9"/>
<line x1="801.9" y1="372.64" x2="805.7" y2="376.24" stroke="#10103A" stroke-width="1.0"/>
<polygon points="807.9,378.24 802.9,378.24 807.9,373.64" fill="#10103A" stroke="none" stroke-width="1"/>
<line x1="801.9" y1="381.64" x2="805.7" y2="385.24" stroke="#10103A" stroke-width="1.0"/>
<polygon points="807.9,387.24 802.9,387.24 807.9,382.64" fill="#10103A" stroke="none" stroke-width="1"/>
<text transform="translate(789.6 415.32) scale(0.76 1)" font-size="10" fill="#782A2A" stroke="#782A2A" stroke-width="0">A</text>
<circle cx="824.33" cy="347.52" r="2.1" fill="#10103A"/>
<line x1="824.5" y1="347.52" x2="824.5" y2="416.92" stroke="#10103A" stroke-width="1.25"/>
<polygon points="813.73,371.04 835.53,371.04 824.63,382.84" fill="#0A0AEA" stroke="none" stroke-width="1"/>
<line x1="813.73" y1="383.44" x2="835.53" y2="383.44" stroke="#0A0ACC" stroke-width="1.9"/>
<line x1="836.93" y1="372.64" x2="840.73" y2="376.24" stroke="#10103A" stroke-width="1.0"/>
<polygon points="842.93,378.24 837.93,378.24 842.93,373.64" fill="#10103A" stroke="none" stroke-width="1"/>
<line x1="836.93" y1="381.64" x2="840.73" y2="385.24" stroke="#10103A" stroke-width="1.0"/>
<polygon points="842.93,387.24 837.93,387.24 842.93,382.64" fill="#10103A" stroke="none" stroke-width="1"/>
<text transform="translate(824.63 415.32) scale(0.76 1)" font-size="10" fill="#782A2A" stroke="#782A2A" stroke-width="0">B</text>
<circle cx="859.36" cy="347.52" r="2.1" fill="#10103A"/>
<line x1="859.5" y1="347.52" x2="859.5" y2="416.92" stroke="#10103A" stroke-width="1.25"/>
<polygon points="848.76,371.04 870.56,371.04 859.66,382.84" fill="#0A0AEA" stroke="none" stroke-width="1"/>
<line x1="848.76" y1="383.44" x2="870.56" y2="383.44" stroke="#0A0ACC" stroke-width="1.9"/>
<line x1="871.96" y1="372.64" x2="875.76" y2="376.24" stroke="#10103A" stroke-width="1.0"/>
<polygon points="877.96,378.24 872.96,378.24 877.96,373.64" fill="#10103A" stroke="none" stroke-width="1"/>
<line x1="871.96" y1="381.64" x2="875.76" y2="385.24" stroke="#10103A" stroke-width="1.0"/>
<polygon points="877.96,387.24 872.96,387.24 877.96,382.64" fill="#10103A" stroke="none" stroke-width="1"/>
<text transform="translate(859.66 415.32) scale(0.76 1)" font-size="10" fill="#782A2A" stroke="#782A2A" stroke-width="0">C</text>
<circle cx="894.39" cy="347.52" r="2.1" fill="#10103A"/>
<line x1="894.5" y1="347.52" x2="894.5" y2="416.92" stroke="#10103A" stroke-width="1.25"/>
<polygon points="883.79,371.04 905.59,371.04 894.69,382.84" fill="#0A0AEA" stroke="none" stroke-width="1"/>
<line x1="883.79" y1="383.44" x2="905.59" y2="383.44" stroke="#0A0ACC" stroke-width="1.9"/>
<line x1="906.99" y1="372.64" x2="910.79" y2="376.24" stroke="#10103A" stroke-width="1.0"/>
<polygon points="912.99,378.24 907.99,378.24 912.99,373.64" fill="#10103A" stroke="none" stroke-width="1"/>
<line x1="906.99" y1="381.64" x2="910.79" y2="385.24" stroke="#10103A" stroke-width="1.0"/>
<polygon points="912.99,387.24 907.99,387.24 912.99,382.64" fill="#10103A" stroke="none" stroke-width="1"/>
<text transform="translate(894.69 415.32) scale(0.76 1)" font-size="10" fill="#782A2A" stroke="#782A2A" stroke-width="0">D</text>
<circle cx="929.42" cy="347.52" r="2.1" fill="#10103A"/>
<line x1="929.5" y1="347.52" x2="929.5" y2="416.92" stroke="#10103A" stroke-width="1.25"/>
<polygon points="918.82,371.04 940.62,371.04 929.72,382.84" fill="#0A0AEA" stroke="none" stroke-width="1"/>
<line x1="918.82" y1="383.44" x2="940.62" y2="383.44" stroke="#0A0ACC" stroke-width="1.9"/>
<line x1="942.02" y1="372.64" x2="945.82" y2="376.24" stroke="#10103A" stroke-width="1.0"/>
<polygon points="948.02,378.24 943.02,378.24 948.02,373.64" fill="#10103A" stroke="none" stroke-width="1"/>
<line x1="942.02" y1="381.64" x2="945.82" y2="385.24" stroke="#10103A" stroke-width="1.0"/>
<polygon points="948.02,387.24 943.02,387.24 948.02,382.64" fill="#10103A" stroke="none" stroke-width="1"/>
<text transform="translate(929.72 415.32) scale(0.76 1)" font-size="10" fill="#782A2A" stroke="#782A2A" stroke-width="0">E</text>
<circle cx="964.45" cy="347.52" r="2.1" fill="#10103A"/>
<line x1="964.5" y1="347.52" x2="964.5" y2="416.92" stroke="#10103A" stroke-width="1.25"/>
<polygon points="953.85,371.04 975.65,371.04 964.75,382.84" fill="#0A0AEA" stroke="none" stroke-width="1"/>
<line x1="953.85" y1="383.44" x2="975.65" y2="383.44" stroke="#0A0ACC" stroke-width="1.9"/>
<line x1="977.05" y1="372.64" x2="980.85" y2="376.24" stroke="#10103A" stroke-width="1.0"/>
<polygon points="983.05,378.24 978.05,378.24 983.05,373.64" fill="#10103A" stroke="none" stroke-width="1"/>
<line x1="977.05" y1="381.64" x2="980.85" y2="385.24" stroke="#10103A" stroke-width="1.0"/>
<polygon points="983.05,387.24 978.05,387.24 983.05,382.64" fill="#10103A" stroke="none" stroke-width="1"/>
<text transform="translate(964.75 415.32) scale(0.76 1)" font-size="10" fill="#782A2A" stroke="#782A2A" stroke-width="0">F</text>
<circle cx="999.48" cy="347.52" r="2.1" fill="#10103A"/>
<line x1="999.5" y1="347.52" x2="999.5" y2="416.92" stroke="#10103A" stroke-width="1.25"/>
<polygon points="988.88,371.04 1010.68,371.04 999.78,382.84" fill="#0A0AEA" stroke="none" stroke-width="1"/>
<line x1="988.88" y1="383.44" x2="1010.68" y2="383.44" stroke="#0A0ACC" stroke-width="1.9"/>
<line x1="1012.08" y1="372.64" x2="1015.88" y2="376.24" stroke="#10103A" stroke-width="1.0"/>
<polygon points="1018.08,378.24 1013.08,378.24 1018.08,373.64" fill="#10103A" stroke="none" stroke-width="1"/>
<line x1="1012.08" y1="381.64" x2="1015.88" y2="385.24" stroke="#10103A" stroke-width="1.0"/>
<polygon points="1018.08,387.24 1013.08,387.24 1018.08,382.64" fill="#10103A" stroke="none" stroke-width="1"/>
<text transform="translate(999.78 415.32) scale(0.76 1)" font-size="10" fill="#782A2A" stroke="#782A2A" stroke-width="0">G</text>
<line x1="1034.5" y1="347.52" x2="1034.5" y2="416.92" stroke="#10103A" stroke-width="1.25"/>
<polygon points="1023.91,371.04 1045.71,371.04 1034.81,382.84" fill="#0A0AEA" stroke="none" stroke-width="1"/>
<line x1="1023.91" y1="383.44" x2="1045.71" y2="383.44" stroke="#0A0ACC" stroke-width="1.9"/>
<line x1="1047.11" y1="372.64" x2="1050.91" y2="376.24" stroke="#10103A" stroke-width="1.0"/>
<polygon points="1053.11,378.24 1048.11,378.24 1053.11,373.64" fill="#10103A" stroke="none" stroke-width="1"/>
<line x1="1047.11" y1="381.64" x2="1050.91" y2="385.24" stroke="#10103A" stroke-width="1.0"/>
<polygon points="1053.11,387.24 1048.11,387.24 1053.11,382.64" fill="#10103A" stroke="none" stroke-width="1"/>
<text transform="translate(1034.81 415.32) scale(0.76 1)" font-size="10" fill="#782A2A" stroke="#782A2A" stroke-width="0">H</text>
<text transform="translate(754.2 425.85) scale(0.86 1)" font-size="10" fill="#782A2A" stroke="#782A2A" stroke-width="0">S10</text>
<line x1="754.9" y1="429.5" x2="1034.51" y2="429.5" stroke="#10103A" stroke-width="1.25"/>
<text x="808.1" y="459.95" font-size="9.6" fill="#1C1C66" stroke="#1C1C66">D41</text>
<text x="843.13" y="459.95" font-size="9.6" fill="#1C1C66" stroke="#1C1C66">D42</text>
<text x="878.16" y="459.95" font-size="9.6" fill="#1C1C66" stroke="#1C1C66">D43</text>
<text x="913.19" y="459.95" font-size="9.6" fill="#1C1C66" stroke="#1C1C66">D44</text>
<text x="948.22" y="459.95" font-size="9.6" fill="#1C1C66" stroke="#1C1C66">D45</text>
<text x="983.25" y="459.95" font-size="9.6" fill="#1C1C66" stroke="#1C1C66">D46</text>
<text x="1018.28" y="459.95" font-size="9.6" fill="#1C1C66" stroke="#1C1C66">D47</text>
<text x="1053.31" y="459.95" font-size="9.6" fill="#1C1C66" stroke="#1C1C66">D48</text>
<circle cx="789.3" cy="429.05" r="2.1" fill="#10103A"/>
<line x1="789.5" y1="429.05" x2="789.5" y2="498.45" stroke="#10103A" stroke-width="1.25"/>
<polygon points="778.7,452.65 800.5,452.65 789.6,464.45" fill="#0A0AEA" stroke="none" stroke-width="1"/>
<line x1="778.7" y1="465.05" x2="800.5" y2="465.05" stroke="#0A0ACC" stroke-width="1.9"/>
<line x1="801.9" y1="454.25" x2="805.7" y2="457.85" stroke="#10103A" stroke-width="1.0"/>
<polygon points="807.9,459.85 802.9,459.85 807.9,455.25" fill="#10103A" stroke="none" stroke-width="1"/>
<line x1="801.9" y1="463.25" x2="805.7" y2="466.85" stroke="#10103A" stroke-width="1.0"/>
<polygon points="807.9,468.85 802.9,468.85 807.9,464.25" fill="#10103A" stroke="none" stroke-width="1"/>
<text transform="translate(789.6 496.85) scale(0.76 1)" font-size="10" fill="#782A2A" stroke="#782A2A" stroke-width="0">A</text>
<circle cx="824.33" cy="429.05" r="2.1" fill="#10103A"/>
<line x1="824.5" y1="429.05" x2="824.5" y2="498.45" stroke="#10103A" stroke-width="1.25"/>
<polygon points="813.73,452.65 835.53,452.65 824.63,464.45" fill="#0A0AEA" stroke="none" stroke-width="1"/>
<line x1="813.73" y1="465.05" x2="835.53" y2="465.05" stroke="#0A0ACC" stroke-width="1.9"/>
<line x1="836.93" y1="454.25" x2="840.73" y2="457.85" stroke="#10103A" stroke-width="1.0"/>
<polygon points="842.93,459.85 837.93,459.85 842.93,455.25" fill="#10103A" stroke="none" stroke-width="1"/>
<line x1="836.93" y1="463.25" x2="840.73" y2="466.85" stroke="#10103A" stroke-width="1.0"/>
<polygon points="842.93,468.85 837.93,468.85 842.93,464.25" fill="#10103A" stroke="none" stroke-width="1"/>
<text transform="translate(824.63 496.85) scale(0.76 1)" font-size="10" fill="#782A2A" stroke="#782A2A" stroke-width="0">B</text>
<circle cx="859.36" cy="429.05" r="2.1" fill="#10103A"/>
<line x1="859.5" y1="429.05" x2="859.5" y2="498.45" stroke="#10103A" stroke-width="1.25"/>
<polygon points="848.76,452.65 870.56,452.65 859.66,464.45" fill="#0A0AEA" stroke="none" stroke-width="1"/>
<line x1="848.76" y1="465.05" x2="870.56" y2="465.05" stroke="#0A0ACC" stroke-width="1.9"/>
<line x1="871.96" y1="454.25" x2="875.76" y2="457.85" stroke="#10103A" stroke-width="1.0"/>
<polygon points="877.96,459.85 872.96,459.85 877.96,455.25" fill="#10103A" stroke="none" stroke-width="1"/>
<line x1="871.96" y1="463.25" x2="875.76" y2="466.85" stroke="#10103A" stroke-width="1.0"/>
<polygon points="877.96,468.85 872.96,468.85 877.96,464.25" fill="#10103A" stroke="none" stroke-width="1"/>
<text transform="translate(859.66 496.85) scale(0.76 1)" font-size="10" fill="#782A2A" stroke="#782A2A" stroke-width="0">C</text>
<circle cx="894.39" cy="429.05" r="2.1" fill="#10103A"/>
<line x1="894.5" y1="429.05" x2="894.5" y2="498.45" stroke="#10103A" stroke-width="1.25"/>
<polygon points="883.79,452.65 905.59,452.65 894.69,464.45" fill="#0A0AEA" stroke="none" stroke-width="1"/>
<line x1="883.79" y1="465.05" x2="905.59" y2="465.05" stroke="#0A0ACC" stroke-width="1.9"/>
<line x1="906.99" y1="454.25" x2="910.79" y2="457.85" stroke="#10103A" stroke-width="1.0"/>
<polygon points="912.99,459.85 907.99,459.85 912.99,455.25" fill="#10103A" stroke="none" stroke-width="1"/>
<line x1="906.99" y1="463.25" x2="910.79" y2="466.85" stroke="#10103A" stroke-width="1.0"/>
<polygon points="912.99,468.85 907.99,468.85 912.99,464.25" fill="#10103A" stroke="none" stroke-width="1"/>
<text transform="translate(894.69 496.85) scale(0.76 1)" font-size="10" fill="#782A2A" stroke="#782A2A" stroke-width="0">D</text>
<circle cx="929.42" cy="429.05" r="2.1" fill="#10103A"/>
<line x1="929.5" y1="429.05" x2="929.5" y2="498.45" stroke="#10103A" stroke-width="1.25"/>
<polygon points="918.82,452.65 940.62,452.65 929.72,464.45" fill="#0A0AEA" stroke="none" stroke-width="1"/>
<line x1="918.82" y1="465.05" x2="940.62" y2="465.05" stroke="#0A0ACC" stroke-width="1.9"/>
<line x1="942.02" y1="454.25" x2="945.82" y2="457.85" stroke="#10103A" stroke-width="1.0"/>
<polygon points="948.02,459.85 943.02,459.85 948.02,455.25" fill="#10103A" stroke="none" stroke-width="1"/>
<line x1="942.02" y1="463.25" x2="945.82" y2="466.85" stroke="#10103A" stroke-width="1.0"/>
<polygon points="948.02,468.85 943.02,468.85 948.02,464.25" fill="#10103A" stroke="none" stroke-width="1"/>
<text transform="translate(929.72 496.85) scale(0.76 1)" font-size="10" fill="#782A2A" stroke="#782A2A" stroke-width="0">E</text>
<circle cx="964.45" cy="429.05" r="2.1" fill="#10103A"/>
<line x1="964.5" y1="429.05" x2="964.5" y2="498.45" stroke="#10103A" stroke-width="1.25"/>
<polygon points="953.85,452.65 975.65,452.65 964.75,464.45" fill="#0A0AEA" stroke="none" stroke-width="1"/>
<line x1="953.85" y1="465.05" x2="975.65" y2="465.05" stroke="#0A0ACC" stroke-width="1.9"/>
<line x1="977.05" y1="454.25" x2="980.85" y2="457.85" stroke="#10103A" stroke-width="1.0"/>
<polygon points="983.05,459.85 978.05,459.85 983.05,455.25" fill="#10103A" stroke="none" stroke-width="1"/>
<line x1="977.05" y1="463.25" x2="980.85" y2="466.85" stroke="#10103A" stroke-width="1.0"/>
<polygon points="983.05,468.85 978.05,468.85 983.05,464.25" fill="#10103A" stroke="none" stroke-width="1"/>
<text transform="translate(964.75 496.85) scale(0.76 1)" font-size="10" fill="#782A2A" stroke="#782A2A" stroke-width="0">F</text>
<circle cx="999.48" cy="429.05" r="2.1" fill="#10103A"/>
<line x1="999.5" y1="429.05" x2="999.5" y2="498.45" stroke="#10103A" stroke-width="1.25"/>
<polygon points="988.88,452.65 1010.68,452.65 999.78,464.45" fill="#0A0AEA" stroke="none" stroke-width="1"/>
<line x1="988.88" y1="465.05" x2="1010.68" y2="465.05" stroke="#0A0ACC" stroke-width="1.9"/>
<line x1="1012.08" y1="454.25" x2="1015.88" y2="457.85" stroke="#10103A" stroke-width="1.0"/>
<polygon points="1018.08,459.85 1013.08,459.85 1018.08,455.25" fill="#10103A" stroke="none" stroke-width="1"/>
<line x1="1012.08" y1="463.25" x2="1015.88" y2="466.85" stroke="#10103A" stroke-width="1.0"/>
<polygon points="1018.08,468.85 1013.08,468.85 1018.08,464.25" fill="#10103A" stroke="none" stroke-width="1"/>
<text transform="translate(999.78 496.85) scale(0.76 1)" font-size="10" fill="#782A2A" stroke="#782A2A" stroke-width="0">G</text>
<line x1="1034.5" y1="429.05" x2="1034.5" y2="498.45" stroke="#10103A" stroke-width="1.25"/>
<polygon points="1023.91,452.65 1045.71,452.65 1034.81,464.45" fill="#0A0AEA" stroke="none" stroke-width="1"/>
<line x1="1023.91" y1="465.05" x2="1045.71" y2="465.05" stroke="#0A0ACC" stroke-width="1.9"/>
<line x1="1047.11" y1="454.25" x2="1050.91" y2="457.85" stroke="#10103A" stroke-width="1.0"/>
<polygon points="1053.11,459.85 1048.11,459.85 1053.11,455.25" fill="#10103A" stroke="none" stroke-width="1"/>
<line x1="1047.11" y1="463.25" x2="1050.91" y2="466.85" stroke="#10103A" stroke-width="1.0"/>
<polygon points="1053.11,468.85 1048.11,468.85 1053.11,464.25" fill="#10103A" stroke="none" stroke-width="1"/>
<text transform="translate(1034.81 496.85) scale(0.76 1)" font-size="10" fill="#782A2A" stroke="#782A2A" stroke-width="0">H</text>
<text transform="translate(754.2 507.38) scale(0.86 1)" font-size="10" fill="#782A2A" stroke="#782A2A" stroke-width="0">S11</text>
<line x1="754.9" y1="510.5" x2="1034.51" y2="510.5" stroke="#10103A" stroke-width="1.25"/>
<text x="808.1" y="541.56" font-size="9.6" fill="#1C1C66" stroke="#1C1C66">D49</text>
<text x="843.13" y="541.56" font-size="9.6" fill="#1C1C66" stroke="#1C1C66">D50</text>
<text x="878.16" y="541.56" font-size="9.6" fill="#1C1C66" stroke="#1C1C66">D51</text>
<text x="913.19" y="541.56" font-size="9.6" fill="#1C1C66" stroke="#1C1C66">D52</text>
<text x="948.22" y="541.56" font-size="9.6" fill="#1C1C66" stroke="#1C1C66">D53</text>
<text x="983.25" y="541.56" font-size="9.6" fill="#1C1C66" stroke="#1C1C66">D54</text>
<text x="1018.28" y="541.56" font-size="9.6" fill="#1C1C66" stroke="#1C1C66">D55</text>
<text x="1053.31" y="541.56" font-size="9.6" fill="#1C1C66" stroke="#1C1C66">D56</text>
<circle cx="789.3" cy="510.58" r="2.1" fill="#10103A"/>
<line x1="789.5" y1="510.58" x2="789.5" y2="579.98" stroke="#10103A" stroke-width="1.25"/>
<polygon points="778.7,534.26 800.5,534.26 789.6,546.06" fill="#0A0AEA" stroke="none" stroke-width="1"/>
<line x1="778.7" y1="546.66" x2="800.5" y2="546.66" stroke="#0A0ACC" stroke-width="1.9"/>
<line x1="801.9" y1="535.86" x2="805.7" y2="539.46" stroke="#10103A" stroke-width="1.0"/>
<polygon points="807.9,541.46 802.9,541.46 807.9,536.86" fill="#10103A" stroke="none" stroke-width="1"/>
<line x1="801.9" y1="544.86" x2="805.7" y2="548.46" stroke="#10103A" stroke-width="1.0"/>
<polygon points="807.9,550.46 802.9,550.46 807.9,545.86" fill="#10103A" stroke="none" stroke-width="1"/>
<text transform="translate(789.6 578.38) scale(0.76 1)" font-size="10" fill="#782A2A" stroke="#782A2A" stroke-width="0">A</text>
<circle cx="824.33" cy="510.58" r="2.1" fill="#10103A"/>
<line x1="824.5" y1="510.58" x2="824.5" y2="579.98" stroke="#10103A" stroke-width="1.25"/>
<polygon points="813.73,534.26 835.53,534.26 824.63,546.06" fill="#0A0AEA" stroke="none" stroke-width="1"/>
<line x1="813.73" y1="546.66" x2="835.53" y2="546.66" stroke="#0A0ACC" stroke-width="1.9"/>
<line x1="836.93" y1="535.86" x2="840.73" y2="539.46" stroke="#10103A" stroke-width="1.0"/>
<polygon points="842.93,541.46 837.93,541.46 842.93,536.86" fill="#10103A" stroke="none" stroke-width="1"/>
<line x1="836.93" y1="544.86" x2="840.73" y2="548.46" stroke="#10103A" stroke-width="1.0"/>
<polygon points="842.93,550.46 837.93,550.46 842.93,545.86" fill="#10103A" stroke="none" stroke-width="1"/>
<text transform="translate(824.63 578.38) scale(0.76 1)" font-size="10" fill="#782A2A" stroke="#782A2A" stroke-width="0">B</text>
<circle cx="859.36" cy="510.58" r="2.1" fill="#10103A"/>
<line x1="859.5" y1="510.58" x2="859.5" y2="579.98" stroke="#10103A" stroke-width="1.25"/>
<polygon points="848.76,534.26 870.56,534.26 859.66,546.06" fill="#0A0AEA" stroke="none" stroke-width="1"/>
<line x1="848.76" y1="546.66" x2="870.56" y2="546.66" stroke="#0A0ACC" stroke-width="1.9"/>
<line x1="871.96" y1="535.86" x2="875.76" y2="539.46" stroke="#10103A" stroke-width="1.0"/>
<polygon points="877.96,541.46 872.96,541.46 877.96,536.86" fill="#10103A" stroke="none" stroke-width="1"/>
<line x1="871.96" y1="544.86" x2="875.76" y2="548.46" stroke="#10103A" stroke-width="1.0"/>
<polygon points="877.96,550.46 872.96,550.46 877.96,545.86" fill="#10103A" stroke="none" stroke-width="1"/>
<text transform="translate(859.66 578.38) scale(0.76 1)" font-size="10" fill="#782A2A" stroke="#782A2A" stroke-width="0">C</text>
<circle cx="894.39" cy="510.58" r="2.1" fill="#10103A"/>
<line x1="894.5" y1="510.58" x2="894.5" y2="579.98" stroke="#10103A" stroke-width="1.25"/>
<polygon points="883.79,534.26 905.59,534.26 894.69,546.06" fill="#0A0AEA" stroke="none" stroke-width="1"/>
<line x1="883.79" y1="546.66" x2="905.59" y2="546.66" stroke="#0A0ACC" stroke-width="1.9"/>
<line x1="906.99" y1="535.86" x2="910.79" y2="539.46" stroke="#10103A" stroke-width="1.0"/>
<polygon points="912.99,541.46 907.99,541.46 912.99,536.86" fill="#10103A" stroke="none" stroke-width="1"/>
<line x1="906.99" y1="544.86" x2="910.79" y2="548.46" stroke="#10103A" stroke-width="1.0"/>
<polygon points="912.99,550.46 907.99,550.46 912.99,545.86" fill="#10103A" stroke="none" stroke-width="1"/>
<text transform="translate(894.69 578.38) scale(0.76 1)" font-size="10" fill="#782A2A" stroke="#782A2A" stroke-width="0">D</text>
<circle cx="929.42" cy="510.58" r="2.1" fill="#10103A"/>
<line x1="929.5" y1="510.58" x2="929.5" y2="579.98" stroke="#10103A" stroke-width="1.25"/>
<polygon points="918.82,534.26 940.62,534.26 929.72,546.06" fill="#0A0AEA" stroke="none" stroke-width="1"/>
<line x1="918.82" y1="546.66" x2="940.62" y2="546.66" stroke="#0A0ACC" stroke-width="1.9"/>
<line x1="942.02" y1="535.86" x2="945.82" y2="539.46" stroke="#10103A" stroke-width="1.0"/>
<polygon points="948.02,541.46 943.02,541.46 948.02,536.86" fill="#10103A" stroke="none" stroke-width="1"/>
<line x1="942.02" y1="544.86" x2="945.82" y2="548.46" stroke="#10103A" stroke-width="1.0"/>
<polygon points="948.02,550.46 943.02,550.46 948.02,545.86" fill="#10103A" stroke="none" stroke-width="1"/>
<text transform="translate(929.72 578.38) scale(0.76 1)" font-size="10" fill="#782A2A" stroke="#782A2A" stroke-width="0">E</text>
<circle cx="964.45" cy="510.58" r="2.1" fill="#10103A"/>
<line x1="964.5" y1="510.58" x2="964.5" y2="579.98" stroke="#10103A" stroke-width="1.25"/>
<polygon points="953.85,534.26 975.65,534.26 964.75,546.06" fill="#0A0AEA" stroke="none" stroke-width="1"/>
<line x1="953.85" y1="546.66" x2="975.65" y2="546.66" stroke="#0A0ACC" stroke-width="1.9"/>
<line x1="977.05" y1="535.86" x2="980.85" y2="539.46" stroke="#10103A" stroke-width="1.0"/>
<polygon points="983.05,541.46 978.05,541.46 983.05,536.86" fill="#10103A" stroke="none" stroke-width="1"/>
<line x1="977.05" y1="544.86" x2="980.85" y2="548.46" stroke="#10103A" stroke-width="1.0"/>
<polygon points="983.05,550.46 978.05,550.46 983.05,545.86" fill="#10103A" stroke="none" stroke-width="1"/>
<text transform="translate(964.75 578.38) scale(0.76 1)" font-size="10" fill="#782A2A" stroke="#782A2A" stroke-width="0">F</text>
<circle cx="999.48" cy="510.58" r="2.1" fill="#10103A"/>
<line x1="999.5" y1="510.58" x2="999.5" y2="579.98" stroke="#10103A" stroke-width="1.25"/>
<polygon points="988.88,534.26 1010.68,534.26 999.78,546.06" fill="#0A0AEA" stroke="none" stroke-width="1"/>
<line x1="988.88" y1="546.66" x2="1010.68" y2="546.66" stroke="#0A0ACC" stroke-width="1.9"/>
<line x1="1012.08" y1="535.86" x2="1015.88" y2="539.46" stroke="#10103A" stroke-width="1.0"/>
<polygon points="1018.08,541.46 1013.08,541.46 1018.08,536.86" fill="#10103A" stroke="none" stroke-width="1"/>
<line x1="1012.08" y1="544.86" x2="1015.88" y2="548.46" stroke="#10103A" stroke-width="1.0"/>
<polygon points="1018.08,550.46 1013.08,550.46 1018.08,545.86" fill="#10103A" stroke="none" stroke-width="1"/>
<text transform="translate(999.78 578.38) scale(0.76 1)" font-size="10" fill="#782A2A" stroke="#782A2A" stroke-width="0">G</text>
<line x1="1034.5" y1="510.58" x2="1034.5" y2="579.98" stroke="#10103A" stroke-width="1.25"/>
<polygon points="1023.91,534.26 1045.71,534.26 1034.81,546.06" fill="#0A0AEA" stroke="none" stroke-width="1"/>
<line x1="1023.91" y1="546.66" x2="1045.71" y2="546.66" stroke="#0A0ACC" stroke-width="1.9"/>
<line x1="1047.11" y1="535.86" x2="1050.91" y2="539.46" stroke="#10103A" stroke-width="1.0"/>
<polygon points="1053.11,541.46 1048.11,541.46 1053.11,536.86" fill="#10103A" stroke="none" stroke-width="1"/>
<line x1="1047.11" y1="544.86" x2="1050.91" y2="548.46" stroke="#10103A" stroke-width="1.0"/>
<polygon points="1053.11,550.46 1048.11,550.46 1053.11,545.86" fill="#10103A" stroke="none" stroke-width="1"/>
<text transform="translate(1034.81 578.38) scale(0.76 1)" font-size="10" fill="#782A2A" stroke="#782A2A" stroke-width="0">H</text>
<text transform="translate(754.2 588.91) scale(0.86 1)" font-size="10" fill="#782A2A" stroke="#782A2A" stroke-width="0">S12</text>
<line x1="754.9" y1="592.5" x2="894.39" y2="592.5" stroke="#10103A" stroke-width="1.25"/>
<text x="808.1" y="623.17" font-size="9.6" fill="#1C1C66" stroke="#1C1C66">D57</text>
<text x="843.13" y="623.17" font-size="9.6" fill="#1C1C66" stroke="#1C1C66">D58</text>
<text x="878.16" y="623.17" font-size="9.6" fill="#1C1C66" stroke="#1C1C66">D59</text>
<text x="913.19" y="623.17" font-size="9.6" fill="#1C1C66" stroke="#1C1C66">D60</text>
<circle cx="789.3" cy="592.11" r="2.1" fill="#10103A"/>
<line x1="789.5" y1="592.11" x2="789.5" y2="661.51" stroke="#10103A" stroke-width="1.25"/>
<polygon points="778.7,615.87 800.5,615.87 789.6,627.67" fill="#0A0AEA" stroke="none" stroke-width="1"/>
<line x1="778.7" y1="628.27" x2="800.5" y2="628.27" stroke="#0A0ACC" stroke-width="1.9"/>
<line x1="801.9" y1="617.47" x2="805.7" y2="621.07" stroke="#10103A" stroke-width="1.0"/>
<polygon points="807.9,623.07 802.9,623.07 807.9,618.47" fill="#10103A" stroke="none" stroke-width="1"/>
<line x1="801.9" y1="626.47" x2="805.7" y2="630.07" stroke="#10103A" stroke-width="1.0"/>
<polygon points="807.9,632.07 802.9,632.07 807.9,627.47" fill="#10103A" stroke="none" stroke-width="1"/>
<text transform="translate(789.6 659.91) scale(0.76 1)" font-size="10" fill="#782A2A" stroke="#782A2A" stroke-width="0">A</text>
<circle cx="824.33" cy="592.11" r="2.1" fill="#10103A"/>
<line x1="824.5" y1="592.11" x2="824.5" y2="661.51" stroke="#10103A" stroke-width="1.25"/>
<polygon points="813.73,615.87 835.53,615.87 824.63,627.67" fill="#0A0AEA" stroke="none" stroke-width="1"/>
<line x1="813.73" y1="628.27" x2="835.53" y2="628.27" stroke="#0A0ACC" stroke-width="1.9"/>
<line x1="836.93" y1="617.47" x2="840.73" y2="621.07" stroke="#10103A" stroke-width="1.0"/>
<polygon points="842.93,623.07 837.93,623.07 842.93,618.47" fill="#10103A" stroke="none" stroke-width="1"/>
<line x1="836.93" y1="626.47" x2="840.73" y2="630.07" stroke="#10103A" stroke-width="1.0"/>
<polygon points="842.93,632.07 837.93,632.07 842.93,627.47" fill="#10103A" stroke="none" stroke-width="1"/>
<text transform="translate(824.63 659.91) scale(0.76 1)" font-size="10" fill="#782A2A" stroke="#782A2A" stroke-width="0">B</text>
<circle cx="859.36" cy="592.11" r="2.1" fill="#10103A"/>
<line x1="859.5" y1="592.11" x2="859.5" y2="661.51" stroke="#10103A" stroke-width="1.25"/>
<polygon points="848.76,615.87 870.56,615.87 859.66,627.67" fill="#0A0AEA" stroke="none" stroke-width="1"/>
<line x1="848.76" y1="628.27" x2="870.56" y2="628.27" stroke="#0A0ACC" stroke-width="1.9"/>
<line x1="871.96" y1="617.47" x2="875.76" y2="621.07" stroke="#10103A" stroke-width="1.0"/>
<polygon points="877.96,623.07 872.96,623.07 877.96,618.47" fill="#10103A" stroke="none" stroke-width="1"/>
<line x1="871.96" y1="626.47" x2="875.76" y2="630.07" stroke="#10103A" stroke-width="1.0"/>
<polygon points="877.96,632.07 872.96,632.07 877.96,627.47" fill="#10103A" stroke="none" stroke-width="1"/>
<text transform="translate(859.66 659.91) scale(0.76 1)" font-size="10" fill="#782A2A" stroke="#782A2A" stroke-width="0">C</text>
<line x1="894.5" y1="592.11" x2="894.5" y2="661.51" stroke="#10103A" stroke-width="1.25"/>
<polygon points="883.79,615.87 905.59,615.87 894.69,627.67" fill="#0A0AEA" stroke="none" stroke-width="1"/>
<line x1="883.79" y1="628.27" x2="905.59" y2="628.27" stroke="#0A0ACC" stroke-width="1.9"/>
<line x1="906.99" y1="617.47" x2="910.79" y2="621.07" stroke="#10103A" stroke-width="1.0"/>
<polygon points="912.99,623.07 907.99,623.07 912.99,618.47" fill="#10103A" stroke="none" stroke-width="1"/>
<line x1="906.99" y1="626.47" x2="910.79" y2="630.07" stroke="#10103A" stroke-width="1.0"/>
<polygon points="912.99,632.07 907.99,632.07 912.99,627.47" fill="#10103A" stroke="none" stroke-width="1"/>
<text transform="translate(894.69 659.91) scale(0.76 1)" font-size="10" fill="#782A2A" stroke="#782A2A" stroke-width="0">D</text>
</svg>
</body></html>
